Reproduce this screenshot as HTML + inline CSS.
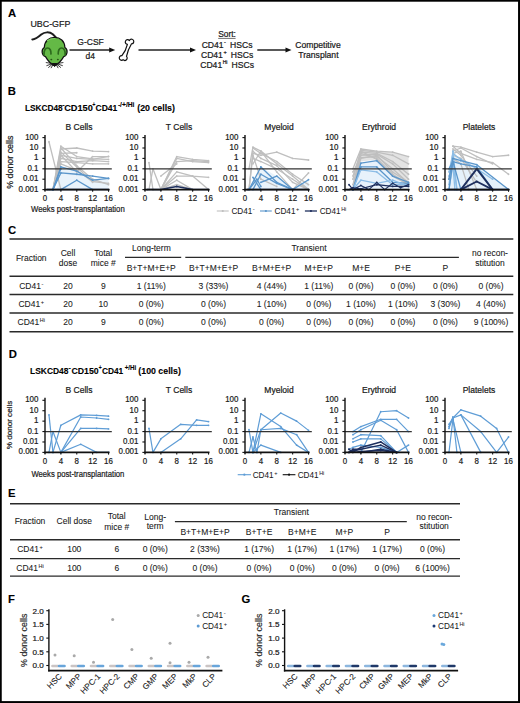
<!DOCTYPE html>
<html><head><meta charset="utf-8"><style>
html,body{margin:0;padding:0;background:#fff;width:520px;height:703px;overflow:hidden}
svg{display:block}
text{font-family:"Liberation Sans", sans-serif}
</style></head><body>
<svg width="520" height="703" viewBox="0 0 520 703" font-family='"Liberation Sans", sans-serif'><rect x="0" y="0" width="520" height="703" fill="#fff"/>
<text x="8.00" y="16.60" font-size="11.3" text-anchor="start" font-weight="bold" fill="#000" stroke="#000" stroke-width="0.1" >A</text>
<text x="30.40" y="27.40" font-size="8.9" text-anchor="start" font-weight="normal" fill="#1a1a1a" stroke="#1a1a1a" stroke-width="0.22" >UBC-GFP</text>
<g stroke-linejoin="round" stroke-linecap="round">
<path d="M32.3,39.4 C35.5,39.6 38.5,37 41.2,34.6 C44.5,31.8 49.5,31.6 52.8,34.2 L56.2,37.6" fill="none" stroke="#1e1e1e" stroke-width="2.0"/>
<path d="M45.5,56.6 A5.1,5.1 0 0 1 44.3,47.6 C44.5,41 49,37.4 54.6,37.4 C60.2,37.4 64.7,41 64.9,47.6 A5.1,5.1 0 0 1 63.7,56.6 C61.5,60.5 58.5,64 54.6,65.6 C50.7,64 47.7,60.5 45.5,56.6 Z" fill="#64b946" stroke="#111" stroke-width="1.2"/>
<path d="M44.0,55.0 C43.6,50.6 45.5,48.0 47.6,48.0 C49.9,48.0 51.2,50.6 51.0,54.0" fill="none" stroke="#2c6a1c" stroke-width="1.7"/>
<path d="M65.2,55.0 C65.6,50.6 63.7,48.0 61.6,48.0 C59.3,48.0 58.0,50.6 58.2,54.0" fill="none" stroke="#2c6a1c" stroke-width="1.7"/>
<path d="M47.5,40.5 C50,38.8 53,38.4 55,38.5" fill="none" stroke="#7fcf62" stroke-width="1.2"/>
<ellipse cx="51.3" cy="59.6" rx="1.0" ry="0.8" fill="#245516"/>
<ellipse cx="57.9" cy="59.6" rx="1.0" ry="0.8" fill="#245516"/>
<path d="M52.2,63.8 L54.6,66.5 L57.0,63.8 Z" fill="#111" stroke="#111" stroke-width="1.0"/>
<g stroke="#1a1a1a" stroke-width="0.85" fill="none">
<path d="M52,63.4 L46.2,62.6 M52,63.8 L46.8,65.6 M52.4,64.2 L48.6,67.4 M53,64.6 L51.2,67.8"/>
<path d="M57.2,63.4 L63,62.6 M57.2,63.8 L62.4,65.6 M56.8,64.2 L60.6,67.4 M56.2,64.6 L58,67.8"/>
</g>
</g>
<line x1="69.50" y1="50.00" x2="111.20" y2="50.00" stroke="#222" stroke-width="1.5" />
<path d="M109.20,47.40 L115.20,50.00 L109.20,52.60 Z" fill="#111"/>
<text x="90.60" y="45.10" font-size="8.5" text-anchor="middle" font-weight="normal" fill="#1a1a1a" stroke="#1a1a1a" stroke-width="0.22" >G-CSF</text>
<text x="90.30" y="58.60" font-size="8.5" text-anchor="middle" font-weight="normal" fill="#1a1a1a" stroke="#1a1a1a" stroke-width="0.22" >d4</text>
<path d="M127.4,44.3 A2.3,2.3 0 1 1 129.4,40.6 A2.3,2.3 0 1 1 131.5,43.8 Q127.9,49.8 126.5,56.4 A2.3,2.3 0 1 1 123.1,59.7 A2.3,2.3 0 1 1 121.9,55.7 Q125.9,50.6 127.4,44.3 Z" fill="#fff" stroke="#111" stroke-width="1.2" stroke-linejoin="round"/>
<line x1="138.50" y1="50.00" x2="192.00" y2="50.00" stroke="#222" stroke-width="1.5" />
<path d="M190.00,47.40 L196.00,50.00 L190.00,52.60 Z" fill="#111"/>
<text x="227" y="37.2" font-size="8.4" text-anchor="middle" fill="#1a1a1a" stroke="#1a1a1a" stroke-width="0.22">Sort:</text>
<line x1="218.20" y1="38.40" x2="235.60" y2="38.40" stroke="#333" stroke-width="0.7" />
<text x="227.10" y="47.75" font-size="8.6" text-anchor="middle" font-weight="normal" fill="#1a1a1a" stroke="#1a1a1a" stroke-width="0.22" >CD41<tspan font-size="5.6" dy="-3.6" dx="0.5">-</tspan><tspan dy="3.6" font-size="1">&#8203;</tspan>&#8201; HSCs</text>
<text x="227.10" y="57.75" font-size="8.6" text-anchor="middle" font-weight="normal" fill="#1a1a1a" stroke="#1a1a1a" stroke-width="0.22" >CD41<tspan font-size="5.6" dy="-3.6" dx="0.5">+</tspan><tspan dy="3.6" font-size="1">&#8203;</tspan>&#8201; HSCs</text>
<text x="227.10" y="67.75" font-size="8.6" text-anchor="middle" font-weight="normal" fill="#1a1a1a" stroke="#1a1a1a" stroke-width="0.22" >CD41<tspan font-size="5.0" dy="-3.6" dx="0.5">Hi</tspan><tspan dy="3.6" font-size="1">&#8203;</tspan>&#8201; HSCs</text>
<line x1="257.30" y1="50.00" x2="287.50" y2="50.00" stroke="#222" stroke-width="1.5" />
<path d="M285.50,47.40 L291.50,50.00 L285.50,52.60 Z" fill="#111"/>
<text x="318.00" y="47.70" font-size="8.6" text-anchor="middle" font-weight="normal" fill="#1a1a1a" stroke="#1a1a1a" stroke-width="0.22" >Competitive</text>
<text x="318.40" y="57.70" font-size="8.6" text-anchor="middle" font-weight="normal" fill="#1a1a1a" stroke="#1a1a1a" stroke-width="0.22" >Transplant</text>
<text x="7.80" y="94.50" font-size="11.3" text-anchor="start" font-weight="bold" fill="#000" stroke="#000" stroke-width="0.1" >B</text>
<text x="24.90" y="111.10" font-size="8.6" font-weight="bold" fill="#000" stroke="#000" stroke-width="0.1" textLength="37.80" lengthAdjust="spacingAndGlyphs">LSKCD48</text>
<text x="62.30" y="107.20" font-size="6.4" font-weight="bold" fill="#000" stroke="#000" stroke-width="0.1" textLength="2.40" lengthAdjust="spacingAndGlyphs">-</text>
<text x="64.20" y="111.10" font-size="8.6" font-weight="bold" fill="#000" stroke="#000" stroke-width="0.1" textLength="28.70" lengthAdjust="spacingAndGlyphs">CD150</text>
<text x="92.60" y="107.20" font-size="6.4" font-weight="bold" fill="#000" stroke="#000" stroke-width="0.1" textLength="2.80" lengthAdjust="spacingAndGlyphs">+</text>
<text x="95.50" y="111.10" font-size="8.6" font-weight="bold" fill="#000" stroke="#000" stroke-width="0.1" textLength="21.80" lengthAdjust="spacingAndGlyphs">CD41</text>
<text x="117.90" y="107.20" font-size="6.4" font-weight="bold" fill="#000" stroke="#000" stroke-width="0.1" textLength="16.60" lengthAdjust="spacingAndGlyphs">-/+/Hi</text>
<text x="137.20" y="111.10" font-size="8.6" font-weight="bold" fill="#000" stroke="#000" stroke-width="0.1" textLength="37.80" lengthAdjust="spacingAndGlyphs">(20 cells)</text>
<text transform="translate(12.6,162.2) rotate(-90)" font-size="8.9" text-anchor="middle" fill="#1a1a1a" stroke="#1a1a1a" stroke-width="0.22">% donor cells</text>
<text x="31.10" y="211.50" font-size="9.2" text-anchor="start" font-weight="normal" fill="#1a1a1a" stroke="#1a1a1a" stroke-width="0.22" textLength="93.6" lengthAdjust="spacingAndGlyphs">Weeks post-transplantation</text>
<text x="79.00" y="129.80" font-size="8.5" text-anchor="middle" font-weight="normal" fill="#1a1a1a" stroke="#1a1a1a" stroke-width="0.22" >B Cells</text>
<polygon points="56.91,189.60 60.88,166.97 76.76,171.11 92.64,180.21 108.52,178.38 108.52,189.60" fill="#e9f3fb" stroke="none"/>
<polyline points="48.97,141.74 60.88,189.60" fill="none" stroke="#bfbfbf" stroke-width="1.3" stroke-linejoin="round"/>
<circle cx="48.97" cy="141.74" r="0.9" fill="#bfbfbf"/>
<circle cx="60.88" cy="189.60" r="0.9" fill="#bfbfbf"/>
<polyline points="52.94,189.60 60.88,146.17 76.76,156.57 92.64,158.88 108.52,159.41" fill="none" stroke="#bfbfbf" stroke-width="1.3" stroke-linejoin="round"/>
<circle cx="52.94" cy="189.60" r="0.9" fill="#bfbfbf"/>
<circle cx="60.88" cy="146.17" r="0.9" fill="#bfbfbf"/>
<circle cx="76.76" cy="156.57" r="0.9" fill="#bfbfbf"/>
<circle cx="92.64" cy="158.88" r="0.9" fill="#bfbfbf"/>
<circle cx="108.52" cy="159.41" r="0.9" fill="#bfbfbf"/>
<polyline points="52.94,189.60 60.88,149.01 76.76,148.00 92.64,151.13 108.52,151.61" fill="none" stroke="#bfbfbf" stroke-width="1.3" stroke-linejoin="round"/>
<circle cx="52.94" cy="189.60" r="0.9" fill="#bfbfbf"/>
<circle cx="60.88" cy="149.01" r="0.9" fill="#bfbfbf"/>
<circle cx="76.76" cy="148.00" r="0.9" fill="#bfbfbf"/>
<circle cx="92.64" cy="151.13" r="0.9" fill="#bfbfbf"/>
<circle cx="108.52" cy="151.61" r="0.9" fill="#bfbfbf"/>
<polyline points="60.88,153.44 76.76,152.74" fill="none" stroke="#bfbfbf" stroke-width="1.3" stroke-linejoin="round"/>
<circle cx="60.88" cy="153.44" r="0.9" fill="#bfbfbf"/>
<circle cx="76.76" cy="152.74" r="0.9" fill="#bfbfbf"/>
<polyline points="52.94,189.60 60.88,155.27 76.76,158.40 92.64,159.41 108.52,156.28" fill="none" stroke="#bfbfbf" stroke-width="1.3" stroke-linejoin="round"/>
<circle cx="52.94" cy="189.60" r="0.9" fill="#bfbfbf"/>
<circle cx="60.88" cy="155.27" r="0.9" fill="#bfbfbf"/>
<circle cx="76.76" cy="158.40" r="0.9" fill="#bfbfbf"/>
<circle cx="92.64" cy="159.41" r="0.9" fill="#bfbfbf"/>
<circle cx="108.52" cy="156.28" r="0.9" fill="#bfbfbf"/>
<polyline points="52.94,189.60 60.88,158.40 76.76,161.53 92.64,160.71 108.52,161.53" fill="none" stroke="#bfbfbf" stroke-width="1.3" stroke-linejoin="round"/>
<circle cx="52.94" cy="189.60" r="0.9" fill="#bfbfbf"/>
<circle cx="60.88" cy="158.40" r="0.9" fill="#bfbfbf"/>
<circle cx="76.76" cy="161.53" r="0.9" fill="#bfbfbf"/>
<circle cx="92.64" cy="160.71" r="0.9" fill="#bfbfbf"/>
<circle cx="108.52" cy="161.53" r="0.9" fill="#bfbfbf"/>
<polyline points="52.94,189.60 60.88,161.53 76.76,162.54 92.64,163.84 108.52,163.84" fill="none" stroke="#bfbfbf" stroke-width="1.3" stroke-linejoin="round"/>
<circle cx="52.94" cy="189.60" r="0.9" fill="#bfbfbf"/>
<circle cx="60.88" cy="161.53" r="0.9" fill="#bfbfbf"/>
<circle cx="76.76" cy="162.54" r="0.9" fill="#bfbfbf"/>
<circle cx="92.64" cy="163.84" r="0.9" fill="#bfbfbf"/>
<circle cx="108.52" cy="163.84" r="0.9" fill="#bfbfbf"/>
<polyline points="52.94,189.60 60.88,163.84 76.76,170.41 92.64,181.51 108.52,183.34" fill="none" stroke="#bfbfbf" stroke-width="1.3" stroke-linejoin="round"/>
<circle cx="52.94" cy="189.60" r="0.9" fill="#bfbfbf"/>
<circle cx="60.88" cy="163.84" r="0.9" fill="#bfbfbf"/>
<circle cx="76.76" cy="170.41" r="0.9" fill="#bfbfbf"/>
<circle cx="92.64" cy="181.51" r="0.9" fill="#bfbfbf"/>
<circle cx="108.52" cy="183.34" r="0.9" fill="#bfbfbf"/>
<polyline points="60.88,148.00 76.76,165.67 92.64,179.20 108.52,184.64" fill="none" stroke="#bfbfbf" stroke-width="1.3" stroke-linejoin="round"/>
<circle cx="60.88" cy="148.00" r="0.9" fill="#bfbfbf"/>
<circle cx="76.76" cy="165.67" r="0.9" fill="#bfbfbf"/>
<circle cx="92.64" cy="179.20" r="0.9" fill="#bfbfbf"/>
<circle cx="108.52" cy="184.64" r="0.9" fill="#bfbfbf"/>
<polyline points="52.94,189.60 60.88,152.14 76.76,166.97 92.64,182.33" fill="none" stroke="#bfbfbf" stroke-width="1.3" stroke-linejoin="round"/>
<circle cx="52.94" cy="189.60" r="0.9" fill="#bfbfbf"/>
<circle cx="60.88" cy="152.14" r="0.9" fill="#bfbfbf"/>
<circle cx="76.76" cy="166.97" r="0.9" fill="#bfbfbf"/>
<circle cx="92.64" cy="182.33" r="0.9" fill="#bfbfbf"/>
<polyline points="60.88,155.27 76.76,171.93 92.64,156.57 108.52,156.57" fill="none" stroke="#bfbfbf" stroke-width="1.3" stroke-linejoin="round"/>
<circle cx="60.88" cy="155.27" r="0.9" fill="#bfbfbf"/>
<circle cx="76.76" cy="171.93" r="0.9" fill="#bfbfbf"/>
<circle cx="92.64" cy="156.57" r="0.9" fill="#bfbfbf"/>
<circle cx="108.52" cy="156.57" r="0.9" fill="#bfbfbf"/>
<polyline points="52.94,189.60 60.88,166.97 76.76,171.11 92.64,180.21 108.52,178.38" fill="none" stroke="#5b96cb" stroke-width="1.3" stroke-linejoin="round"/>
<circle cx="52.94" cy="189.60" r="0.9" fill="#5b96cb"/>
<circle cx="60.88" cy="166.97" r="0.9" fill="#5b96cb"/>
<circle cx="76.76" cy="171.11" r="0.9" fill="#5b96cb"/>
<circle cx="92.64" cy="180.21" r="0.9" fill="#5b96cb"/>
<circle cx="108.52" cy="178.38" r="0.9" fill="#5b96cb"/>
<polyline points="52.94,189.60 60.88,172.94 76.76,174.24 92.64,176.07 108.52,178.38" fill="none" stroke="#5b96cb" stroke-width="1.3" stroke-linejoin="round"/>
<circle cx="52.94" cy="189.60" r="0.9" fill="#5b96cb"/>
<circle cx="60.88" cy="172.94" r="0.9" fill="#5b96cb"/>
<circle cx="76.76" cy="174.24" r="0.9" fill="#5b96cb"/>
<circle cx="92.64" cy="176.07" r="0.9" fill="#5b96cb"/>
<circle cx="108.52" cy="178.38" r="0.9" fill="#5b96cb"/>
<polyline points="60.88,189.60 76.76,180.21 92.64,189.60" fill="none" stroke="#5b96cb" stroke-width="1.3" stroke-linejoin="round"/>
<circle cx="60.88" cy="189.60" r="0.9" fill="#5b96cb"/>
<circle cx="76.76" cy="180.21" r="0.9" fill="#5b96cb"/>
<circle cx="92.64" cy="189.60" r="0.9" fill="#5b96cb"/>
<polyline points="48.97,189.60 52.94,189.60 60.88,168.80" fill="none" stroke="#5b96cb" stroke-width="1.3" stroke-linejoin="round"/>
<circle cx="48.97" cy="189.60" r="0.9" fill="#5b96cb"/>
<circle cx="52.94" cy="189.60" r="0.9" fill="#5b96cb"/>
<circle cx="60.88" cy="168.80" r="0.9" fill="#5b96cb"/>
<polyline points="46.98,189.60 108.52,189.60" fill="none" stroke="#1e2f5e" stroke-width="1.5" stroke-linejoin="round"/>
<circle cx="46.98" cy="189.60" r="0.9" fill="#1e2f5e"/>
<circle cx="108.52" cy="189.60" r="0.9" fill="#1e2f5e"/>
<line x1="45.00" y1="168.80" x2="111.80" y2="168.80" stroke="#333" stroke-width="1.3" />
<line x1="45.00" y1="135.10" x2="45.00" y2="190.60" stroke="#111" stroke-width="1.4" />
<line x1="44.30" y1="189.60" x2="109.50" y2="189.60" stroke="#111" stroke-width="1.8" />
<line x1="42.40" y1="137.60" x2="45.00" y2="137.60" stroke="#111" stroke-width="1.1" />
<text x="38.40" y="139.60" font-size="8.9" text-anchor="end" font-weight="normal" fill="#1a1a1a" stroke="#1a1a1a" stroke-width="0.22" textLength="13.23" lengthAdjust="spacingAndGlyphs">100</text>
<line x1="42.40" y1="148.00" x2="45.00" y2="148.00" stroke="#111" stroke-width="1.1" />
<text x="38.40" y="150.00" font-size="8.9" text-anchor="end" font-weight="normal" fill="#1a1a1a" stroke="#1a1a1a" stroke-width="0.22" textLength="8.82" lengthAdjust="spacingAndGlyphs">10</text>
<line x1="42.40" y1="158.40" x2="45.00" y2="158.40" stroke="#111" stroke-width="1.1" />
<text x="38.40" y="160.40" font-size="8.9" text-anchor="end" font-weight="normal" fill="#1a1a1a" stroke="#1a1a1a" stroke-width="0.22" textLength="4.42" lengthAdjust="spacingAndGlyphs">1</text>
<line x1="42.40" y1="168.80" x2="45.00" y2="168.80" stroke="#111" stroke-width="1.1" />
<text x="38.40" y="170.80" font-size="8.9" text-anchor="end" font-weight="normal" fill="#1a1a1a" stroke="#1a1a1a" stroke-width="0.22" textLength="11.02" lengthAdjust="spacingAndGlyphs">0.1</text>
<line x1="42.40" y1="179.20" x2="45.00" y2="179.20" stroke="#111" stroke-width="1.1" />
<text x="38.40" y="181.20" font-size="8.9" text-anchor="end" font-weight="normal" fill="#1a1a1a" stroke="#1a1a1a" stroke-width="0.22" textLength="15.43" lengthAdjust="spacingAndGlyphs">0.01</text>
<line x1="42.40" y1="189.60" x2="45.00" y2="189.60" stroke="#111" stroke-width="1.1" />
<text x="38.40" y="191.60" font-size="8.9" text-anchor="end" font-weight="normal" fill="#1a1a1a" stroke="#1a1a1a" stroke-width="0.22" textLength="19.83" lengthAdjust="spacingAndGlyphs">0.001</text>
<line x1="45.00" y1="189.60" x2="45.00" y2="191.80" stroke="#111" stroke-width="1.1" />
<text x="45.00" y="201.20" font-size="9.0" text-anchor="middle" font-weight="normal" fill="#1a1a1a" stroke="#1a1a1a" stroke-width="0.22" textLength="4.40" lengthAdjust="spacingAndGlyphs">0</text>
<line x1="60.88" y1="189.60" x2="60.88" y2="191.80" stroke="#111" stroke-width="1.1" />
<text x="60.88" y="201.20" font-size="9.0" text-anchor="middle" font-weight="normal" fill="#1a1a1a" stroke="#1a1a1a" stroke-width="0.22" textLength="4.40" lengthAdjust="spacingAndGlyphs">4</text>
<line x1="76.76" y1="189.60" x2="76.76" y2="191.80" stroke="#111" stroke-width="1.1" />
<text x="76.76" y="201.20" font-size="9.0" text-anchor="middle" font-weight="normal" fill="#1a1a1a" stroke="#1a1a1a" stroke-width="0.22" textLength="4.40" lengthAdjust="spacingAndGlyphs">8</text>
<line x1="92.64" y1="189.60" x2="92.64" y2="191.80" stroke="#111" stroke-width="1.1" />
<text x="92.64" y="201.20" font-size="9.0" text-anchor="middle" font-weight="normal" fill="#1a1a1a" stroke="#1a1a1a" stroke-width="0.22" textLength="8.80" lengthAdjust="spacingAndGlyphs">12</text>
<line x1="108.52" y1="189.60" x2="108.52" y2="191.80" stroke="#111" stroke-width="1.1" />
<text x="108.52" y="201.20" font-size="9.0" text-anchor="middle" font-weight="normal" fill="#1a1a1a" stroke="#1a1a1a" stroke-width="0.22" textLength="8.80" lengthAdjust="spacingAndGlyphs">16</text>
<text x="179.00" y="129.80" font-size="8.5" text-anchor="middle" font-weight="normal" fill="#1a1a1a" stroke="#1a1a1a" stroke-width="0.22" >T Cells</text>
<polyline points="148.97,162.54 152.94,189.60" fill="none" stroke="#bfbfbf" stroke-width="1.3" stroke-linejoin="round"/>
<circle cx="148.97" cy="162.54" r="0.9" fill="#bfbfbf"/>
<circle cx="152.94" cy="189.60" r="0.9" fill="#bfbfbf"/>
<polyline points="148.97,189.60 152.94,168.80 160.88,189.60" fill="none" stroke="#bfbfbf" stroke-width="1.3" stroke-linejoin="round"/>
<circle cx="148.97" cy="189.60" r="0.9" fill="#bfbfbf"/>
<circle cx="152.94" cy="168.80" r="0.9" fill="#bfbfbf"/>
<circle cx="160.88" cy="189.60" r="0.9" fill="#bfbfbf"/>
<polyline points="160.88,189.60 176.76,156.57 192.64,159.41 208.52,160.71" fill="none" stroke="#bfbfbf" stroke-width="1.3" stroke-linejoin="round"/>
<circle cx="160.88" cy="189.60" r="0.9" fill="#bfbfbf"/>
<circle cx="176.76" cy="156.57" r="0.9" fill="#bfbfbf"/>
<circle cx="192.64" cy="159.41" r="0.9" fill="#bfbfbf"/>
<circle cx="208.52" cy="160.71" r="0.9" fill="#bfbfbf"/>
<polyline points="160.88,189.60 176.76,158.40 192.64,161.53 208.52,162.54" fill="none" stroke="#bfbfbf" stroke-width="1.3" stroke-linejoin="round"/>
<circle cx="160.88" cy="189.60" r="0.9" fill="#bfbfbf"/>
<circle cx="176.76" cy="158.40" r="0.9" fill="#bfbfbf"/>
<circle cx="192.64" cy="161.53" r="0.9" fill="#bfbfbf"/>
<circle cx="208.52" cy="162.54" r="0.9" fill="#bfbfbf"/>
<polyline points="160.88,189.60 176.76,161.53 192.64,160.71 208.52,161.53" fill="none" stroke="#bfbfbf" stroke-width="1.3" stroke-linejoin="round"/>
<circle cx="160.88" cy="189.60" r="0.9" fill="#bfbfbf"/>
<circle cx="176.76" cy="161.53" r="0.9" fill="#bfbfbf"/>
<circle cx="192.64" cy="160.71" r="0.9" fill="#bfbfbf"/>
<circle cx="208.52" cy="161.53" r="0.9" fill="#bfbfbf"/>
<polyline points="160.88,189.60 176.76,171.93 192.64,176.07 208.52,177.37" fill="none" stroke="#bfbfbf" stroke-width="1.3" stroke-linejoin="round"/>
<circle cx="160.88" cy="189.60" r="0.9" fill="#bfbfbf"/>
<circle cx="176.76" cy="171.93" r="0.9" fill="#bfbfbf"/>
<circle cx="192.64" cy="176.07" r="0.9" fill="#bfbfbf"/>
<circle cx="208.52" cy="177.37" r="0.9" fill="#bfbfbf"/>
<polyline points="160.88,189.60 176.76,176.07 192.64,176.07 208.52,189.60" fill="none" stroke="#bfbfbf" stroke-width="1.3" stroke-linejoin="round"/>
<circle cx="160.88" cy="189.60" r="0.9" fill="#bfbfbf"/>
<circle cx="176.76" cy="176.07" r="0.9" fill="#bfbfbf"/>
<circle cx="192.64" cy="176.07" r="0.9" fill="#bfbfbf"/>
<circle cx="208.52" cy="189.60" r="0.9" fill="#bfbfbf"/>
<polyline points="160.88,189.60 176.76,180.21 192.64,189.60" fill="none" stroke="#bfbfbf" stroke-width="1.3" stroke-linejoin="round"/>
<circle cx="160.88" cy="189.60" r="0.9" fill="#bfbfbf"/>
<circle cx="176.76" cy="180.21" r="0.9" fill="#bfbfbf"/>
<circle cx="192.64" cy="189.60" r="0.9" fill="#bfbfbf"/>
<polyline points="160.88,176.07 176.76,163.84" fill="none" stroke="#bfbfbf" stroke-width="1.3" stroke-linejoin="round"/>
<circle cx="160.88" cy="176.07" r="0.9" fill="#bfbfbf"/>
<circle cx="176.76" cy="163.84" r="0.9" fill="#bfbfbf"/>
<polyline points="152.94,189.60 160.88,189.60 176.76,184.64 192.64,189.60" fill="none" stroke="#bfbfbf" stroke-width="1.3" stroke-linejoin="round"/>
<circle cx="152.94" cy="189.60" r="0.9" fill="#bfbfbf"/>
<circle cx="160.88" cy="189.60" r="0.9" fill="#bfbfbf"/>
<circle cx="176.76" cy="184.64" r="0.9" fill="#bfbfbf"/>
<circle cx="192.64" cy="189.60" r="0.9" fill="#bfbfbf"/>
<polyline points="146.99,189.60 160.88,189.60 176.76,186.47 192.64,189.60 208.52,189.60" fill="none" stroke="#1e2f5e" stroke-width="1.5" stroke-linejoin="round"/>
<circle cx="146.99" cy="189.60" r="0.9" fill="#1e2f5e"/>
<circle cx="160.88" cy="189.60" r="0.9" fill="#1e2f5e"/>
<circle cx="176.76" cy="186.47" r="0.9" fill="#1e2f5e"/>
<circle cx="192.64" cy="189.60" r="0.9" fill="#1e2f5e"/>
<circle cx="208.52" cy="189.60" r="0.9" fill="#1e2f5e"/>
<line x1="145.00" y1="168.80" x2="211.80" y2="168.80" stroke="#333" stroke-width="1.3" />
<line x1="145.00" y1="135.10" x2="145.00" y2="190.60" stroke="#111" stroke-width="1.4" />
<line x1="144.30" y1="189.60" x2="209.50" y2="189.60" stroke="#111" stroke-width="1.8" />
<line x1="142.40" y1="137.60" x2="145.00" y2="137.60" stroke="#111" stroke-width="1.1" />
<text x="138.40" y="139.60" font-size="8.9" text-anchor="end" font-weight="normal" fill="#1a1a1a" stroke="#1a1a1a" stroke-width="0.22" textLength="13.23" lengthAdjust="spacingAndGlyphs">100</text>
<line x1="142.40" y1="148.00" x2="145.00" y2="148.00" stroke="#111" stroke-width="1.1" />
<text x="138.40" y="150.00" font-size="8.9" text-anchor="end" font-weight="normal" fill="#1a1a1a" stroke="#1a1a1a" stroke-width="0.22" textLength="8.82" lengthAdjust="spacingAndGlyphs">10</text>
<line x1="142.40" y1="158.40" x2="145.00" y2="158.40" stroke="#111" stroke-width="1.1" />
<text x="138.40" y="160.40" font-size="8.9" text-anchor="end" font-weight="normal" fill="#1a1a1a" stroke="#1a1a1a" stroke-width="0.22" textLength="4.42" lengthAdjust="spacingAndGlyphs">1</text>
<line x1="142.40" y1="168.80" x2="145.00" y2="168.80" stroke="#111" stroke-width="1.1" />
<text x="138.40" y="170.80" font-size="8.9" text-anchor="end" font-weight="normal" fill="#1a1a1a" stroke="#1a1a1a" stroke-width="0.22" textLength="11.02" lengthAdjust="spacingAndGlyphs">0.1</text>
<line x1="142.40" y1="179.20" x2="145.00" y2="179.20" stroke="#111" stroke-width="1.1" />
<text x="138.40" y="181.20" font-size="8.9" text-anchor="end" font-weight="normal" fill="#1a1a1a" stroke="#1a1a1a" stroke-width="0.22" textLength="15.43" lengthAdjust="spacingAndGlyphs">0.01</text>
<line x1="142.40" y1="189.60" x2="145.00" y2="189.60" stroke="#111" stroke-width="1.1" />
<text x="138.40" y="191.60" font-size="8.9" text-anchor="end" font-weight="normal" fill="#1a1a1a" stroke="#1a1a1a" stroke-width="0.22" textLength="19.83" lengthAdjust="spacingAndGlyphs">0.001</text>
<line x1="145.00" y1="189.60" x2="145.00" y2="191.80" stroke="#111" stroke-width="1.1" />
<text x="145.00" y="201.20" font-size="9.0" text-anchor="middle" font-weight="normal" fill="#1a1a1a" stroke="#1a1a1a" stroke-width="0.22" textLength="4.40" lengthAdjust="spacingAndGlyphs">0</text>
<line x1="160.88" y1="189.60" x2="160.88" y2="191.80" stroke="#111" stroke-width="1.1" />
<text x="160.88" y="201.20" font-size="9.0" text-anchor="middle" font-weight="normal" fill="#1a1a1a" stroke="#1a1a1a" stroke-width="0.22" textLength="4.40" lengthAdjust="spacingAndGlyphs">4</text>
<line x1="176.76" y1="189.60" x2="176.76" y2="191.80" stroke="#111" stroke-width="1.1" />
<text x="176.76" y="201.20" font-size="9.0" text-anchor="middle" font-weight="normal" fill="#1a1a1a" stroke="#1a1a1a" stroke-width="0.22" textLength="4.40" lengthAdjust="spacingAndGlyphs">8</text>
<line x1="192.64" y1="189.60" x2="192.64" y2="191.80" stroke="#111" stroke-width="1.1" />
<text x="192.64" y="201.20" font-size="9.0" text-anchor="middle" font-weight="normal" fill="#1a1a1a" stroke="#1a1a1a" stroke-width="0.22" textLength="8.80" lengthAdjust="spacingAndGlyphs">12</text>
<line x1="208.52" y1="189.60" x2="208.52" y2="191.80" stroke="#111" stroke-width="1.1" />
<text x="208.52" y="201.20" font-size="9.0" text-anchor="middle" font-weight="normal" fill="#1a1a1a" stroke="#1a1a1a" stroke-width="0.22" textLength="8.80" lengthAdjust="spacingAndGlyphs">16</text>
<text x="279.00" y="129.80" font-size="8.5" text-anchor="middle" font-weight="normal" fill="#1a1a1a" stroke="#1a1a1a" stroke-width="0.22" >Myeloid</text>
<polygon points="248.97,189.60 260.88,166.97 276.76,176.07 292.64,189.60 308.52,179.20 308.52,189.60" fill="#e9f3fb" stroke="none"/>
<polyline points="248.97,168.80 252.94,147.18 260.88,151.13 276.76,163.84 292.64,176.07 308.52,189.60" fill="none" stroke="#bfbfbf" stroke-width="1.3" stroke-linejoin="round"/>
<circle cx="248.97" cy="168.80" r="0.9" fill="#bfbfbf"/>
<circle cx="252.94" cy="147.18" r="0.9" fill="#bfbfbf"/>
<circle cx="260.88" cy="151.13" r="0.9" fill="#bfbfbf"/>
<circle cx="276.76" cy="163.84" r="0.9" fill="#bfbfbf"/>
<circle cx="292.64" cy="176.07" r="0.9" fill="#bfbfbf"/>
<circle cx="308.52" cy="189.60" r="0.9" fill="#bfbfbf"/>
<polyline points="252.94,148.00 260.88,153.44 276.76,161.53 292.64,174.24 308.52,184.64" fill="none" stroke="#bfbfbf" stroke-width="1.3" stroke-linejoin="round"/>
<circle cx="252.94" cy="148.00" r="0.9" fill="#bfbfbf"/>
<circle cx="260.88" cy="153.44" r="0.9" fill="#bfbfbf"/>
<circle cx="276.76" cy="161.53" r="0.9" fill="#bfbfbf"/>
<circle cx="292.64" cy="174.24" r="0.9" fill="#bfbfbf"/>
<circle cx="308.52" cy="184.64" r="0.9" fill="#bfbfbf"/>
<polyline points="252.94,153.44 260.88,155.27 276.76,152.14 292.64,158.40 308.52,160.01" fill="none" stroke="#bfbfbf" stroke-width="1.3" stroke-linejoin="round"/>
<circle cx="252.94" cy="153.44" r="0.9" fill="#bfbfbf"/>
<circle cx="260.88" cy="155.27" r="0.9" fill="#bfbfbf"/>
<circle cx="276.76" cy="152.14" r="0.9" fill="#bfbfbf"/>
<circle cx="292.64" cy="158.40" r="0.9" fill="#bfbfbf"/>
<circle cx="308.52" cy="160.01" r="0.9" fill="#bfbfbf"/>
<polyline points="248.97,189.60 252.94,151.13 260.88,158.40 276.76,165.67 292.64,182.33 308.52,189.60" fill="none" stroke="#bfbfbf" stroke-width="1.3" stroke-linejoin="round"/>
<circle cx="248.97" cy="189.60" r="0.9" fill="#bfbfbf"/>
<circle cx="252.94" cy="151.13" r="0.9" fill="#bfbfbf"/>
<circle cx="260.88" cy="158.40" r="0.9" fill="#bfbfbf"/>
<circle cx="276.76" cy="165.67" r="0.9" fill="#bfbfbf"/>
<circle cx="292.64" cy="182.33" r="0.9" fill="#bfbfbf"/>
<circle cx="308.52" cy="189.60" r="0.9" fill="#bfbfbf"/>
<polyline points="252.94,158.40 260.88,161.53 276.76,168.80 292.64,179.20 308.52,189.60" fill="none" stroke="#bfbfbf" stroke-width="1.3" stroke-linejoin="round"/>
<circle cx="252.94" cy="158.40" r="0.9" fill="#bfbfbf"/>
<circle cx="260.88" cy="161.53" r="0.9" fill="#bfbfbf"/>
<circle cx="276.76" cy="168.80" r="0.9" fill="#bfbfbf"/>
<circle cx="292.64" cy="179.20" r="0.9" fill="#bfbfbf"/>
<circle cx="308.52" cy="189.60" r="0.9" fill="#bfbfbf"/>
<polyline points="252.94,163.84 260.88,151.13 276.76,171.93 292.64,189.60 308.52,172.94" fill="none" stroke="#bfbfbf" stroke-width="1.3" stroke-linejoin="round"/>
<circle cx="252.94" cy="163.84" r="0.9" fill="#bfbfbf"/>
<circle cx="260.88" cy="151.13" r="0.9" fill="#bfbfbf"/>
<circle cx="276.76" cy="171.93" r="0.9" fill="#bfbfbf"/>
<circle cx="292.64" cy="189.60" r="0.9" fill="#bfbfbf"/>
<circle cx="308.52" cy="172.94" r="0.9" fill="#bfbfbf"/>
<polyline points="248.97,189.60 252.94,155.27 260.88,179.20 276.76,186.47" fill="none" stroke="#bfbfbf" stroke-width="1.3" stroke-linejoin="round"/>
<circle cx="248.97" cy="189.60" r="0.9" fill="#bfbfbf"/>
<circle cx="252.94" cy="155.27" r="0.9" fill="#bfbfbf"/>
<circle cx="260.88" cy="179.20" r="0.9" fill="#bfbfbf"/>
<circle cx="276.76" cy="186.47" r="0.9" fill="#bfbfbf"/>
<polyline points="248.97,189.60 260.88,166.97 276.76,182.33 292.64,189.60" fill="none" stroke="#5b96cb" stroke-width="1.3" stroke-linejoin="round"/>
<circle cx="248.97" cy="189.60" r="0.9" fill="#5b96cb"/>
<circle cx="260.88" cy="166.97" r="0.9" fill="#5b96cb"/>
<circle cx="276.76" cy="182.33" r="0.9" fill="#5b96cb"/>
<circle cx="292.64" cy="189.60" r="0.9" fill="#5b96cb"/>
<polyline points="252.94,177.37 260.88,189.60" fill="none" stroke="#5b96cb" stroke-width="1.3" stroke-linejoin="round"/>
<circle cx="252.94" cy="177.37" r="0.9" fill="#5b96cb"/>
<circle cx="260.88" cy="189.60" r="0.9" fill="#5b96cb"/>
<polyline points="252.94,189.60 260.88,174.24 276.76,183.34 292.64,189.60" fill="none" stroke="#5b96cb" stroke-width="1.3" stroke-linejoin="round"/>
<circle cx="252.94" cy="189.60" r="0.9" fill="#5b96cb"/>
<circle cx="260.88" cy="174.24" r="0.9" fill="#5b96cb"/>
<circle cx="276.76" cy="183.34" r="0.9" fill="#5b96cb"/>
<circle cx="292.64" cy="189.60" r="0.9" fill="#5b96cb"/>
<polyline points="260.88,182.33 276.76,176.07 292.64,189.60 308.52,179.68" fill="none" stroke="#5b96cb" stroke-width="1.3" stroke-linejoin="round"/>
<circle cx="260.88" cy="182.33" r="0.9" fill="#5b96cb"/>
<circle cx="276.76" cy="176.07" r="0.9" fill="#5b96cb"/>
<circle cx="292.64" cy="189.60" r="0.9" fill="#5b96cb"/>
<circle cx="308.52" cy="179.68" r="0.9" fill="#5b96cb"/>
<polyline points="248.97,189.60 256.91,179.20 260.88,186.47" fill="none" stroke="#5b96cb" stroke-width="1.3" stroke-linejoin="round"/>
<circle cx="248.97" cy="189.60" r="0.9" fill="#5b96cb"/>
<circle cx="256.91" cy="179.20" r="0.9" fill="#5b96cb"/>
<circle cx="260.88" cy="186.47" r="0.9" fill="#5b96cb"/>
<polyline points="246.99,189.60 308.52,189.60" fill="none" stroke="#1e2f5e" stroke-width="1.5" stroke-linejoin="round"/>
<circle cx="246.99" cy="189.60" r="0.9" fill="#1e2f5e"/>
<circle cx="308.52" cy="189.60" r="0.9" fill="#1e2f5e"/>
<line x1="245.00" y1="168.80" x2="311.80" y2="168.80" stroke="#333" stroke-width="1.3" />
<line x1="245.00" y1="135.10" x2="245.00" y2="190.60" stroke="#111" stroke-width="1.4" />
<line x1="244.30" y1="189.60" x2="309.50" y2="189.60" stroke="#111" stroke-width="1.8" />
<line x1="242.40" y1="137.60" x2="245.00" y2="137.60" stroke="#111" stroke-width="1.1" />
<text x="238.40" y="139.60" font-size="8.9" text-anchor="end" font-weight="normal" fill="#1a1a1a" stroke="#1a1a1a" stroke-width="0.22" textLength="13.23" lengthAdjust="spacingAndGlyphs">100</text>
<line x1="242.40" y1="148.00" x2="245.00" y2="148.00" stroke="#111" stroke-width="1.1" />
<text x="238.40" y="150.00" font-size="8.9" text-anchor="end" font-weight="normal" fill="#1a1a1a" stroke="#1a1a1a" stroke-width="0.22" textLength="8.82" lengthAdjust="spacingAndGlyphs">10</text>
<line x1="242.40" y1="158.40" x2="245.00" y2="158.40" stroke="#111" stroke-width="1.1" />
<text x="238.40" y="160.40" font-size="8.9" text-anchor="end" font-weight="normal" fill="#1a1a1a" stroke="#1a1a1a" stroke-width="0.22" textLength="4.42" lengthAdjust="spacingAndGlyphs">1</text>
<line x1="242.40" y1="168.80" x2="245.00" y2="168.80" stroke="#111" stroke-width="1.1" />
<text x="238.40" y="170.80" font-size="8.9" text-anchor="end" font-weight="normal" fill="#1a1a1a" stroke="#1a1a1a" stroke-width="0.22" textLength="11.02" lengthAdjust="spacingAndGlyphs">0.1</text>
<line x1="242.40" y1="179.20" x2="245.00" y2="179.20" stroke="#111" stroke-width="1.1" />
<text x="238.40" y="181.20" font-size="8.9" text-anchor="end" font-weight="normal" fill="#1a1a1a" stroke="#1a1a1a" stroke-width="0.22" textLength="15.43" lengthAdjust="spacingAndGlyphs">0.01</text>
<line x1="242.40" y1="189.60" x2="245.00" y2="189.60" stroke="#111" stroke-width="1.1" />
<text x="238.40" y="191.60" font-size="8.9" text-anchor="end" font-weight="normal" fill="#1a1a1a" stroke="#1a1a1a" stroke-width="0.22" textLength="19.83" lengthAdjust="spacingAndGlyphs">0.001</text>
<line x1="245.00" y1="189.60" x2="245.00" y2="191.80" stroke="#111" stroke-width="1.1" />
<text x="245.00" y="201.20" font-size="9.0" text-anchor="middle" font-weight="normal" fill="#1a1a1a" stroke="#1a1a1a" stroke-width="0.22" textLength="4.40" lengthAdjust="spacingAndGlyphs">0</text>
<line x1="260.88" y1="189.60" x2="260.88" y2="191.80" stroke="#111" stroke-width="1.1" />
<text x="260.88" y="201.20" font-size="9.0" text-anchor="middle" font-weight="normal" fill="#1a1a1a" stroke="#1a1a1a" stroke-width="0.22" textLength="4.40" lengthAdjust="spacingAndGlyphs">4</text>
<line x1="276.76" y1="189.60" x2="276.76" y2="191.80" stroke="#111" stroke-width="1.1" />
<text x="276.76" y="201.20" font-size="9.0" text-anchor="middle" font-weight="normal" fill="#1a1a1a" stroke="#1a1a1a" stroke-width="0.22" textLength="4.40" lengthAdjust="spacingAndGlyphs">8</text>
<line x1="292.64" y1="189.60" x2="292.64" y2="191.80" stroke="#111" stroke-width="1.1" />
<text x="292.64" y="201.20" font-size="9.0" text-anchor="middle" font-weight="normal" fill="#1a1a1a" stroke="#1a1a1a" stroke-width="0.22" textLength="8.80" lengthAdjust="spacingAndGlyphs">12</text>
<line x1="308.52" y1="189.60" x2="308.52" y2="191.80" stroke="#111" stroke-width="1.1" />
<text x="308.52" y="201.20" font-size="9.0" text-anchor="middle" font-weight="normal" fill="#1a1a1a" stroke="#1a1a1a" stroke-width="0.22" textLength="8.80" lengthAdjust="spacingAndGlyphs">16</text>
<text x="379.00" y="129.80" font-size="8.5" text-anchor="middle" font-weight="normal" fill="#1a1a1a" stroke="#1a1a1a" stroke-width="0.22" >Erythroid</text>
<polygon points="352.94,189.60 354.13,168.80 360.88,149.01 376.76,151.13 392.64,152.14 408.52,156.57 408.52,183.34 392.64,174.24 376.76,159.41 360.88,161.53 356.91,189.60" fill="#e3e3e3" stroke="none"/>
<polygon points="352.94,189.60 360.88,163.14 376.76,160.71 392.64,176.07 408.52,182.33 408.52,189.60" fill="#e8f2fb" stroke="none"/>
<polyline points="352.94,168.80 360.88,149.01 376.76,151.13 392.64,152.14 408.52,156.57" fill="none" stroke="#bfbfbf" stroke-width="1.3" stroke-linejoin="round"/>
<circle cx="352.94" cy="168.80" r="0.9" fill="#bfbfbf"/>
<circle cx="360.88" cy="149.01" r="0.9" fill="#bfbfbf"/>
<circle cx="376.76" cy="151.13" r="0.9" fill="#bfbfbf"/>
<circle cx="392.64" cy="152.14" r="0.9" fill="#bfbfbf"/>
<circle cx="408.52" cy="156.57" r="0.9" fill="#bfbfbf"/>
<polyline points="352.94,179.20 360.88,150.31 376.76,152.14 392.64,155.27 408.52,163.84" fill="none" stroke="#bfbfbf" stroke-width="1.3" stroke-linejoin="round"/>
<circle cx="352.94" cy="179.20" r="0.9" fill="#bfbfbf"/>
<circle cx="360.88" cy="150.31" r="0.9" fill="#bfbfbf"/>
<circle cx="376.76" cy="152.14" r="0.9" fill="#bfbfbf"/>
<circle cx="392.64" cy="155.27" r="0.9" fill="#bfbfbf"/>
<circle cx="408.52" cy="163.84" r="0.9" fill="#bfbfbf"/>
<polyline points="352.94,189.60 360.88,152.14 376.76,153.44 392.64,161.53 408.52,174.24" fill="none" stroke="#bfbfbf" stroke-width="1.3" stroke-linejoin="round"/>
<circle cx="352.94" cy="189.60" r="0.9" fill="#bfbfbf"/>
<circle cx="360.88" cy="152.14" r="0.9" fill="#bfbfbf"/>
<circle cx="376.76" cy="153.44" r="0.9" fill="#bfbfbf"/>
<circle cx="392.64" cy="161.53" r="0.9" fill="#bfbfbf"/>
<circle cx="408.52" cy="174.24" r="0.9" fill="#bfbfbf"/>
<polyline points="352.94,184.64 360.88,155.27 376.76,154.26 392.64,163.84 408.52,179.20" fill="none" stroke="#bfbfbf" stroke-width="1.3" stroke-linejoin="round"/>
<circle cx="352.94" cy="184.64" r="0.9" fill="#bfbfbf"/>
<circle cx="360.88" cy="155.27" r="0.9" fill="#bfbfbf"/>
<circle cx="376.76" cy="154.26" r="0.9" fill="#bfbfbf"/>
<circle cx="392.64" cy="163.84" r="0.9" fill="#bfbfbf"/>
<circle cx="408.52" cy="179.20" r="0.9" fill="#bfbfbf"/>
<polyline points="352.94,189.60 360.88,157.58 376.76,156.57 392.64,168.80 408.52,183.34" fill="none" stroke="#bfbfbf" stroke-width="1.3" stroke-linejoin="round"/>
<circle cx="352.94" cy="189.60" r="0.9" fill="#bfbfbf"/>
<circle cx="360.88" cy="157.58" r="0.9" fill="#bfbfbf"/>
<circle cx="376.76" cy="156.57" r="0.9" fill="#bfbfbf"/>
<circle cx="392.64" cy="168.80" r="0.9" fill="#bfbfbf"/>
<circle cx="408.52" cy="183.34" r="0.9" fill="#bfbfbf"/>
<polyline points="352.94,176.07 360.88,153.44 376.76,158.40 392.64,174.24 408.52,184.64" fill="none" stroke="#bfbfbf" stroke-width="1.3" stroke-linejoin="round"/>
<circle cx="352.94" cy="176.07" r="0.9" fill="#bfbfbf"/>
<circle cx="360.88" cy="153.44" r="0.9" fill="#bfbfbf"/>
<circle cx="376.76" cy="158.40" r="0.9" fill="#bfbfbf"/>
<circle cx="392.64" cy="174.24" r="0.9" fill="#bfbfbf"/>
<circle cx="408.52" cy="184.64" r="0.9" fill="#bfbfbf"/>
<polyline points="352.94,189.60 360.88,151.13 376.76,159.41 392.64,176.07 408.52,184.64" fill="none" stroke="#bfbfbf" stroke-width="1.3" stroke-linejoin="round"/>
<circle cx="352.94" cy="189.60" r="0.9" fill="#bfbfbf"/>
<circle cx="360.88" cy="151.13" r="0.9" fill="#bfbfbf"/>
<circle cx="376.76" cy="159.41" r="0.9" fill="#bfbfbf"/>
<circle cx="392.64" cy="176.07" r="0.9" fill="#bfbfbf"/>
<circle cx="408.52" cy="184.64" r="0.9" fill="#bfbfbf"/>
<polyline points="352.94,171.93 360.88,158.40 376.76,155.27 392.64,171.93 408.52,182.33" fill="none" stroke="#bfbfbf" stroke-width="1.3" stroke-linejoin="round"/>
<circle cx="352.94" cy="171.93" r="0.9" fill="#bfbfbf"/>
<circle cx="360.88" cy="158.40" r="0.9" fill="#bfbfbf"/>
<circle cx="376.76" cy="155.27" r="0.9" fill="#bfbfbf"/>
<circle cx="392.64" cy="171.93" r="0.9" fill="#bfbfbf"/>
<circle cx="408.52" cy="182.33" r="0.9" fill="#bfbfbf"/>
<polyline points="352.94,189.60 360.88,163.14 376.76,160.71 392.64,176.07 408.52,182.33" fill="none" stroke="#5b96cb" stroke-width="1.3" stroke-linejoin="round"/>
<circle cx="352.94" cy="189.60" r="0.9" fill="#5b96cb"/>
<circle cx="360.88" cy="163.14" r="0.9" fill="#5b96cb"/>
<circle cx="376.76" cy="160.71" r="0.9" fill="#5b96cb"/>
<circle cx="392.64" cy="176.07" r="0.9" fill="#5b96cb"/>
<circle cx="408.52" cy="182.33" r="0.9" fill="#5b96cb"/>
<polyline points="352.94,189.60 360.88,166.97 376.76,166.97 392.64,182.33 408.52,183.34" fill="none" stroke="#5b96cb" stroke-width="1.3" stroke-linejoin="round"/>
<circle cx="352.94" cy="189.60" r="0.9" fill="#5b96cb"/>
<circle cx="360.88" cy="166.97" r="0.9" fill="#5b96cb"/>
<circle cx="376.76" cy="166.97" r="0.9" fill="#5b96cb"/>
<circle cx="392.64" cy="182.33" r="0.9" fill="#5b96cb"/>
<circle cx="408.52" cy="183.34" r="0.9" fill="#5b96cb"/>
<polyline points="352.94,189.60 360.88,169.81 376.76,171.93 392.64,184.64 408.52,184.64" fill="none" stroke="#8dbde6" stroke-width="1.3" stroke-linejoin="round"/>
<circle cx="352.94" cy="189.60" r="0.9" fill="#8dbde6"/>
<circle cx="360.88" cy="169.81" r="0.9" fill="#8dbde6"/>
<circle cx="376.76" cy="171.93" r="0.9" fill="#8dbde6"/>
<circle cx="392.64" cy="184.64" r="0.9" fill="#8dbde6"/>
<circle cx="408.52" cy="184.64" r="0.9" fill="#8dbde6"/>
<polyline points="352.94,189.60 360.88,180.21 376.76,183.34 392.64,180.21 408.52,186.47" fill="none" stroke="#8dbde6" stroke-width="1.3" stroke-linejoin="round"/>
<circle cx="352.94" cy="189.60" r="0.9" fill="#8dbde6"/>
<circle cx="360.88" cy="180.21" r="0.9" fill="#8dbde6"/>
<circle cx="376.76" cy="183.34" r="0.9" fill="#8dbde6"/>
<circle cx="392.64" cy="180.21" r="0.9" fill="#8dbde6"/>
<circle cx="408.52" cy="186.47" r="0.9" fill="#8dbde6"/>
<polyline points="348.97,184.64 352.94,189.60 360.88,185.46 368.82,189.60 376.76,182.33 384.70,189.60 392.64,183.34 400.58,187.77 408.52,184.64" fill="none" stroke="#1e2f5e" stroke-width="1.2" stroke-linejoin="round"/>
<circle cx="348.97" cy="184.64" r="0.9" fill="#1e2f5e"/>
<circle cx="352.94" cy="189.60" r="0.9" fill="#1e2f5e"/>
<circle cx="360.88" cy="185.46" r="0.9" fill="#1e2f5e"/>
<circle cx="368.82" cy="189.60" r="0.9" fill="#1e2f5e"/>
<circle cx="376.76" cy="182.33" r="0.9" fill="#1e2f5e"/>
<circle cx="384.70" cy="189.60" r="0.9" fill="#1e2f5e"/>
<circle cx="392.64" cy="183.34" r="0.9" fill="#1e2f5e"/>
<circle cx="400.58" cy="187.77" r="0.9" fill="#1e2f5e"/>
<circle cx="408.52" cy="184.64" r="0.9" fill="#1e2f5e"/>
<polyline points="348.97,189.60 352.94,187.77 360.88,188.78 376.76,184.64 392.64,186.47 408.52,186.47" fill="none" stroke="#1e2f5e" stroke-width="1.2" stroke-linejoin="round"/>
<circle cx="348.97" cy="189.60" r="0.9" fill="#1e2f5e"/>
<circle cx="352.94" cy="187.77" r="0.9" fill="#1e2f5e"/>
<circle cx="360.88" cy="188.78" r="0.9" fill="#1e2f5e"/>
<circle cx="376.76" cy="184.64" r="0.9" fill="#1e2f5e"/>
<circle cx="392.64" cy="186.47" r="0.9" fill="#1e2f5e"/>
<circle cx="408.52" cy="186.47" r="0.9" fill="#1e2f5e"/>
<polyline points="346.99,189.60 408.52,189.60" fill="none" stroke="#1e2f5e" stroke-width="1.2" stroke-linejoin="round"/>
<circle cx="346.99" cy="189.60" r="0.9" fill="#1e2f5e"/>
<circle cx="408.52" cy="189.60" r="0.9" fill="#1e2f5e"/>
<line x1="345.00" y1="168.80" x2="411.80" y2="168.80" stroke="#333" stroke-width="1.3" />
<line x1="345.00" y1="135.10" x2="345.00" y2="190.60" stroke="#111" stroke-width="1.4" />
<line x1="344.30" y1="189.60" x2="409.50" y2="189.60" stroke="#111" stroke-width="1.8" />
<line x1="342.40" y1="137.60" x2="345.00" y2="137.60" stroke="#111" stroke-width="1.1" />
<text x="338.40" y="139.60" font-size="8.9" text-anchor="end" font-weight="normal" fill="#1a1a1a" stroke="#1a1a1a" stroke-width="0.22" textLength="13.23" lengthAdjust="spacingAndGlyphs">100</text>
<line x1="342.40" y1="148.00" x2="345.00" y2="148.00" stroke="#111" stroke-width="1.1" />
<text x="338.40" y="150.00" font-size="8.9" text-anchor="end" font-weight="normal" fill="#1a1a1a" stroke="#1a1a1a" stroke-width="0.22" textLength="8.82" lengthAdjust="spacingAndGlyphs">10</text>
<line x1="342.40" y1="158.40" x2="345.00" y2="158.40" stroke="#111" stroke-width="1.1" />
<text x="338.40" y="160.40" font-size="8.9" text-anchor="end" font-weight="normal" fill="#1a1a1a" stroke="#1a1a1a" stroke-width="0.22" textLength="4.42" lengthAdjust="spacingAndGlyphs">1</text>
<line x1="342.40" y1="168.80" x2="345.00" y2="168.80" stroke="#111" stroke-width="1.1" />
<text x="338.40" y="170.80" font-size="8.9" text-anchor="end" font-weight="normal" fill="#1a1a1a" stroke="#1a1a1a" stroke-width="0.22" textLength="11.02" lengthAdjust="spacingAndGlyphs">0.1</text>
<line x1="342.40" y1="179.20" x2="345.00" y2="179.20" stroke="#111" stroke-width="1.1" />
<text x="338.40" y="181.20" font-size="8.9" text-anchor="end" font-weight="normal" fill="#1a1a1a" stroke="#1a1a1a" stroke-width="0.22" textLength="15.43" lengthAdjust="spacingAndGlyphs">0.01</text>
<line x1="342.40" y1="189.60" x2="345.00" y2="189.60" stroke="#111" stroke-width="1.1" />
<text x="338.40" y="191.60" font-size="8.9" text-anchor="end" font-weight="normal" fill="#1a1a1a" stroke="#1a1a1a" stroke-width="0.22" textLength="19.83" lengthAdjust="spacingAndGlyphs">0.001</text>
<line x1="345.00" y1="189.60" x2="345.00" y2="191.80" stroke="#111" stroke-width="1.1" />
<text x="345.00" y="201.20" font-size="9.0" text-anchor="middle" font-weight="normal" fill="#1a1a1a" stroke="#1a1a1a" stroke-width="0.22" textLength="4.40" lengthAdjust="spacingAndGlyphs">0</text>
<line x1="360.88" y1="189.60" x2="360.88" y2="191.80" stroke="#111" stroke-width="1.1" />
<text x="360.88" y="201.20" font-size="9.0" text-anchor="middle" font-weight="normal" fill="#1a1a1a" stroke="#1a1a1a" stroke-width="0.22" textLength="4.40" lengthAdjust="spacingAndGlyphs">4</text>
<line x1="376.76" y1="189.60" x2="376.76" y2="191.80" stroke="#111" stroke-width="1.1" />
<text x="376.76" y="201.20" font-size="9.0" text-anchor="middle" font-weight="normal" fill="#1a1a1a" stroke="#1a1a1a" stroke-width="0.22" textLength="4.40" lengthAdjust="spacingAndGlyphs">8</text>
<line x1="392.64" y1="189.60" x2="392.64" y2="191.80" stroke="#111" stroke-width="1.1" />
<text x="392.64" y="201.20" font-size="9.0" text-anchor="middle" font-weight="normal" fill="#1a1a1a" stroke="#1a1a1a" stroke-width="0.22" textLength="8.80" lengthAdjust="spacingAndGlyphs">12</text>
<line x1="408.52" y1="189.60" x2="408.52" y2="191.80" stroke="#111" stroke-width="1.1" />
<text x="408.52" y="201.20" font-size="9.0" text-anchor="middle" font-weight="normal" fill="#1a1a1a" stroke="#1a1a1a" stroke-width="0.22" textLength="8.80" lengthAdjust="spacingAndGlyphs">16</text>
<text x="479.00" y="129.80" font-size="8.5" text-anchor="middle" font-weight="normal" fill="#1a1a1a" stroke="#1a1a1a" stroke-width="0.22" >Platelets</text>
<polygon points="448.97,189.60 448.97,171.93 452.94,151.13 460.88,160.71 476.76,164.66 508.52,189.60" fill="#e6f1fa" stroke="none"/>
<polyline points="452.94,146.17 460.88,147.18 476.76,152.14 492.64,156.57 508.52,155.27" fill="none" stroke="#bfbfbf" stroke-width="1.3" stroke-linejoin="round"/>
<circle cx="452.94" cy="146.17" r="0.9" fill="#bfbfbf"/>
<circle cx="460.88" cy="147.18" r="0.9" fill="#bfbfbf"/>
<circle cx="476.76" cy="152.14" r="0.9" fill="#bfbfbf"/>
<circle cx="492.64" cy="156.57" r="0.9" fill="#bfbfbf"/>
<circle cx="508.52" cy="155.27" r="0.9" fill="#bfbfbf"/>
<polyline points="452.94,146.17 460.88,153.44 476.76,159.41 492.64,162.54 508.52,174.24" fill="none" stroke="#bfbfbf" stroke-width="1.3" stroke-linejoin="round"/>
<circle cx="452.94" cy="146.17" r="0.9" fill="#bfbfbf"/>
<circle cx="460.88" cy="153.44" r="0.9" fill="#bfbfbf"/>
<circle cx="476.76" cy="159.41" r="0.9" fill="#bfbfbf"/>
<circle cx="492.64" cy="162.54" r="0.9" fill="#bfbfbf"/>
<circle cx="508.52" cy="174.24" r="0.9" fill="#bfbfbf"/>
<polyline points="452.94,151.13 460.88,148.00 476.76,156.57 492.64,163.84" fill="none" stroke="#bfbfbf" stroke-width="1.3" stroke-linejoin="round"/>
<circle cx="452.94" cy="151.13" r="0.9" fill="#bfbfbf"/>
<circle cx="460.88" cy="148.00" r="0.9" fill="#bfbfbf"/>
<circle cx="476.76" cy="156.57" r="0.9" fill="#bfbfbf"/>
<circle cx="492.64" cy="163.84" r="0.9" fill="#bfbfbf"/>
<polyline points="452.94,153.44 460.88,151.13 476.76,189.60" fill="none" stroke="#bfbfbf" stroke-width="1.3" stroke-linejoin="round"/>
<circle cx="452.94" cy="153.44" r="0.9" fill="#bfbfbf"/>
<circle cx="460.88" cy="151.13" r="0.9" fill="#bfbfbf"/>
<circle cx="476.76" cy="189.60" r="0.9" fill="#bfbfbf"/>
<polyline points="452.94,149.01 460.88,155.27 476.76,176.07" fill="none" stroke="#bfbfbf" stroke-width="1.3" stroke-linejoin="round"/>
<circle cx="452.94" cy="149.01" r="0.9" fill="#bfbfbf"/>
<circle cx="460.88" cy="155.27" r="0.9" fill="#bfbfbf"/>
<circle cx="476.76" cy="176.07" r="0.9" fill="#bfbfbf"/>
<polyline points="452.94,155.27 460.88,158.40 476.76,182.33" fill="none" stroke="#bfbfbf" stroke-width="1.3" stroke-linejoin="round"/>
<circle cx="452.94" cy="155.27" r="0.9" fill="#bfbfbf"/>
<circle cx="460.88" cy="158.40" r="0.9" fill="#bfbfbf"/>
<circle cx="476.76" cy="182.33" r="0.9" fill="#bfbfbf"/>
<polyline points="448.97,179.20 452.94,158.40 460.88,163.84 468.82,189.60" fill="none" stroke="#bfbfbf" stroke-width="1.3" stroke-linejoin="round"/>
<circle cx="448.97" cy="179.20" r="0.9" fill="#bfbfbf"/>
<circle cx="452.94" cy="158.40" r="0.9" fill="#bfbfbf"/>
<circle cx="460.88" cy="163.84" r="0.9" fill="#bfbfbf"/>
<circle cx="468.82" cy="189.60" r="0.9" fill="#bfbfbf"/>
<polyline points="448.97,189.60 452.94,163.84 456.91,189.60" fill="none" stroke="#8dbde6" stroke-width="1.3" stroke-linejoin="round"/>
<circle cx="448.97" cy="189.60" r="0.9" fill="#8dbde6"/>
<circle cx="452.94" cy="163.84" r="0.9" fill="#8dbde6"/>
<circle cx="456.91" cy="189.60" r="0.9" fill="#8dbde6"/>
<polyline points="448.97,171.93 452.94,153.44 460.88,159.41 476.76,168.80 492.64,179.20" fill="none" stroke="#8dbde6" stroke-width="1.3" stroke-linejoin="round"/>
<circle cx="448.97" cy="171.93" r="0.9" fill="#8dbde6"/>
<circle cx="452.94" cy="153.44" r="0.9" fill="#8dbde6"/>
<circle cx="460.88" cy="159.41" r="0.9" fill="#8dbde6"/>
<circle cx="476.76" cy="168.80" r="0.9" fill="#8dbde6"/>
<circle cx="492.64" cy="179.20" r="0.9" fill="#8dbde6"/>
<polyline points="448.97,184.64 452.94,151.13 456.91,189.60" fill="none" stroke="#8dbde6" stroke-width="1.3" stroke-linejoin="round"/>
<circle cx="448.97" cy="184.64" r="0.9" fill="#8dbde6"/>
<circle cx="452.94" cy="151.13" r="0.9" fill="#8dbde6"/>
<circle cx="456.91" cy="189.60" r="0.9" fill="#8dbde6"/>
<polyline points="448.97,176.07 452.94,165.67 454.93,189.60" fill="none" stroke="#8dbde6" stroke-width="1.3" stroke-linejoin="round"/>
<circle cx="448.97" cy="176.07" r="0.9" fill="#8dbde6"/>
<circle cx="452.94" cy="165.67" r="0.9" fill="#8dbde6"/>
<circle cx="454.93" cy="189.60" r="0.9" fill="#8dbde6"/>
<polyline points="448.97,179.20 452.94,158.40 460.88,160.71 476.76,164.66 508.52,189.60" fill="none" stroke="#5b96cb" stroke-width="1.3" stroke-linejoin="round"/>
<circle cx="448.97" cy="179.20" r="0.9" fill="#5b96cb"/>
<circle cx="452.94" cy="158.40" r="0.9" fill="#5b96cb"/>
<circle cx="460.88" cy="160.71" r="0.9" fill="#5b96cb"/>
<circle cx="476.76" cy="164.66" r="0.9" fill="#5b96cb"/>
<circle cx="508.52" cy="189.60" r="0.9" fill="#5b96cb"/>
<polyline points="448.97,189.60 452.94,161.53 460.88,189.60" fill="none" stroke="#5b96cb" stroke-width="1.3" stroke-linejoin="round"/>
<circle cx="448.97" cy="189.60" r="0.9" fill="#5b96cb"/>
<circle cx="452.94" cy="161.53" r="0.9" fill="#5b96cb"/>
<circle cx="460.88" cy="189.60" r="0.9" fill="#5b96cb"/>
<polyline points="448.97,168.80 452.94,161.53 460.88,163.84 476.76,166.97 492.64,189.60" fill="none" stroke="#5b96cb" stroke-width="1.3" stroke-linejoin="round"/>
<circle cx="448.97" cy="168.80" r="0.9" fill="#5b96cb"/>
<circle cx="452.94" cy="161.53" r="0.9" fill="#5b96cb"/>
<circle cx="460.88" cy="163.84" r="0.9" fill="#5b96cb"/>
<circle cx="476.76" cy="166.97" r="0.9" fill="#5b96cb"/>
<circle cx="492.64" cy="189.60" r="0.9" fill="#5b96cb"/>
<polyline points="460.88,189.60 476.76,168.80 492.64,189.60" fill="none" stroke="#1e2f5e" stroke-width="1.9" stroke-linejoin="round"/>
<circle cx="460.88" cy="189.60" r="0.9" fill="#1e2f5e"/>
<circle cx="476.76" cy="168.80" r="0.9" fill="#1e2f5e"/>
<circle cx="492.64" cy="189.60" r="0.9" fill="#1e2f5e"/>
<polyline points="460.88,189.60 476.76,181.51 492.64,189.60" fill="none" stroke="#1e2f5e" stroke-width="1.9" stroke-linejoin="round"/>
<circle cx="460.88" cy="189.60" r="0.9" fill="#1e2f5e"/>
<circle cx="476.76" cy="181.51" r="0.9" fill="#1e2f5e"/>
<circle cx="492.64" cy="189.60" r="0.9" fill="#1e2f5e"/>
<polyline points="446.99,189.60 508.52,189.60" fill="none" stroke="#1e2f5e" stroke-width="1.9" stroke-linejoin="round"/>
<circle cx="446.99" cy="189.60" r="0.9" fill="#1e2f5e"/>
<circle cx="508.52" cy="189.60" r="0.9" fill="#1e2f5e"/>
<line x1="445.00" y1="168.80" x2="511.80" y2="168.80" stroke="#333" stroke-width="1.3" />
<line x1="445.00" y1="135.10" x2="445.00" y2="190.60" stroke="#111" stroke-width="1.4" />
<line x1="444.30" y1="189.60" x2="509.50" y2="189.60" stroke="#111" stroke-width="1.8" />
<line x1="442.40" y1="137.60" x2="445.00" y2="137.60" stroke="#111" stroke-width="1.1" />
<text x="438.40" y="139.60" font-size="8.9" text-anchor="end" font-weight="normal" fill="#1a1a1a" stroke="#1a1a1a" stroke-width="0.22" textLength="13.23" lengthAdjust="spacingAndGlyphs">100</text>
<line x1="442.40" y1="148.00" x2="445.00" y2="148.00" stroke="#111" stroke-width="1.1" />
<text x="438.40" y="150.00" font-size="8.9" text-anchor="end" font-weight="normal" fill="#1a1a1a" stroke="#1a1a1a" stroke-width="0.22" textLength="8.82" lengthAdjust="spacingAndGlyphs">10</text>
<line x1="442.40" y1="158.40" x2="445.00" y2="158.40" stroke="#111" stroke-width="1.1" />
<text x="438.40" y="160.40" font-size="8.9" text-anchor="end" font-weight="normal" fill="#1a1a1a" stroke="#1a1a1a" stroke-width="0.22" textLength="4.42" lengthAdjust="spacingAndGlyphs">1</text>
<line x1="442.40" y1="168.80" x2="445.00" y2="168.80" stroke="#111" stroke-width="1.1" />
<text x="438.40" y="170.80" font-size="8.9" text-anchor="end" font-weight="normal" fill="#1a1a1a" stroke="#1a1a1a" stroke-width="0.22" textLength="11.02" lengthAdjust="spacingAndGlyphs">0.1</text>
<line x1="442.40" y1="179.20" x2="445.00" y2="179.20" stroke="#111" stroke-width="1.1" />
<text x="438.40" y="181.20" font-size="8.9" text-anchor="end" font-weight="normal" fill="#1a1a1a" stroke="#1a1a1a" stroke-width="0.22" textLength="15.43" lengthAdjust="spacingAndGlyphs">0.01</text>
<line x1="442.40" y1="189.60" x2="445.00" y2="189.60" stroke="#111" stroke-width="1.1" />
<text x="438.40" y="191.60" font-size="8.9" text-anchor="end" font-weight="normal" fill="#1a1a1a" stroke="#1a1a1a" stroke-width="0.22" textLength="19.83" lengthAdjust="spacingAndGlyphs">0.001</text>
<line x1="445.00" y1="189.60" x2="445.00" y2="191.80" stroke="#111" stroke-width="1.1" />
<text x="445.00" y="201.20" font-size="9.0" text-anchor="middle" font-weight="normal" fill="#1a1a1a" stroke="#1a1a1a" stroke-width="0.22" textLength="4.40" lengthAdjust="spacingAndGlyphs">0</text>
<line x1="460.88" y1="189.60" x2="460.88" y2="191.80" stroke="#111" stroke-width="1.1" />
<text x="460.88" y="201.20" font-size="9.0" text-anchor="middle" font-weight="normal" fill="#1a1a1a" stroke="#1a1a1a" stroke-width="0.22" textLength="4.40" lengthAdjust="spacingAndGlyphs">4</text>
<line x1="476.76" y1="189.60" x2="476.76" y2="191.80" stroke="#111" stroke-width="1.1" />
<text x="476.76" y="201.20" font-size="9.0" text-anchor="middle" font-weight="normal" fill="#1a1a1a" stroke="#1a1a1a" stroke-width="0.22" textLength="4.40" lengthAdjust="spacingAndGlyphs">8</text>
<line x1="492.64" y1="189.60" x2="492.64" y2="191.80" stroke="#111" stroke-width="1.1" />
<text x="492.64" y="201.20" font-size="9.0" text-anchor="middle" font-weight="normal" fill="#1a1a1a" stroke="#1a1a1a" stroke-width="0.22" textLength="8.80" lengthAdjust="spacingAndGlyphs">12</text>
<line x1="508.52" y1="189.60" x2="508.52" y2="191.80" stroke="#111" stroke-width="1.1" />
<text x="508.52" y="201.20" font-size="9.0" text-anchor="middle" font-weight="normal" fill="#1a1a1a" stroke="#1a1a1a" stroke-width="0.22" textLength="8.80" lengthAdjust="spacingAndGlyphs">16</text>
<line x1="216.80" y1="211.00" x2="228.70" y2="211.00" stroke="#bfbfbf" stroke-width="1.1" />
<circle cx="222.75" cy="211.00" r="1.1" fill="#bfbfbf"/>
<text x="231.40" y="213.90" font-size="8.2" text-anchor="start" font-weight="normal" fill="#1a1a1a" stroke="#1a1a1a" stroke-width="0.05" >CD41<tspan font-size="5.8" dy="-3.0" dx="0.5">-</tspan><tspan dy="3.0" font-size="1">&#8203;</tspan></text>
<line x1="260.00" y1="211.00" x2="271.80" y2="211.00" stroke="#5b96cb" stroke-width="1.1" />
<circle cx="265.90" cy="211.00" r="1.1" fill="#5b96cb"/>
<text x="274.50" y="213.90" font-size="8.2" text-anchor="start" font-weight="normal" fill="#1a1a1a" stroke="#1a1a1a" stroke-width="0.05" >CD41<tspan font-size="5.6" dy="-3.0" dx="0.5">+</tspan><tspan dy="3.0" font-size="1">&#8203;</tspan></text>
<line x1="304.90" y1="211.00" x2="317.00" y2="211.00" stroke="#1e2f5e" stroke-width="1.3" />
<circle cx="310.95" cy="211.00" r="1.1" fill="#1e2f5e"/>
<text x="319.70" y="213.90" font-size="8.2" text-anchor="start" font-weight="normal" fill="#1a1a1a" stroke="#1a1a1a" stroke-width="0.05" >CD41<tspan font-size="5.4" dy="-3.0" dx="0.5">Hi</tspan><tspan dy="3.0" font-size="1">&#8203;</tspan></text>
<text x="8.00" y="233.75" font-size="11.3" text-anchor="start" font-weight="bold" fill="#000" stroke="#000" stroke-width="0.1" >C</text>
<line x1="9.50" y1="239.00" x2="513.30" y2="239.00" stroke="#2a2a2a" stroke-width="1.4" />
<line x1="125.00" y1="257.40" x2="181.20" y2="257.40" stroke="#2a2a2a" stroke-width="1.2" />
<line x1="185.30" y1="257.40" x2="458.90" y2="257.40" stroke="#2a2a2a" stroke-width="1.2" />
<line x1="9.50" y1="276.30" x2="513.30" y2="276.30" stroke="#2a2a2a" stroke-width="1.4" />
<line x1="9.50" y1="294.50" x2="513.30" y2="294.50" stroke="#2a2a2a" stroke-width="1.4" />
<line x1="9.50" y1="313.00" x2="513.30" y2="313.00" stroke="#2a2a2a" stroke-width="1.4" />
<line x1="9.50" y1="331.75" x2="513.30" y2="331.75" stroke="#2a2a2a" stroke-width="1.4" />
<text x="31.25" y="260.50" font-size="8.5" text-anchor="middle" font-weight="normal" fill="#1a1a1a" stroke="#1a1a1a" stroke-width="0.08" >Fraction</text>
<text x="68.00" y="255.50" font-size="8.5" text-anchor="middle" font-weight="normal" fill="#1a1a1a" stroke="#1a1a1a" stroke-width="0.08" >Cell</text>
<text x="68.00" y="266.00" font-size="8.5" text-anchor="middle" font-weight="normal" fill="#1a1a1a" stroke="#1a1a1a" stroke-width="0.08" >dose</text>
<text x="103.25" y="255.50" font-size="8.5" text-anchor="middle" font-weight="normal" fill="#1a1a1a" stroke="#1a1a1a" stroke-width="0.08" >Total</text>
<text x="103.25" y="266.00" font-size="8.5" text-anchor="middle" font-weight="normal" fill="#1a1a1a" stroke="#1a1a1a" stroke-width="0.08" >mice #</text>
<text x="151.40" y="250.70" font-size="8.5" text-anchor="middle" font-weight="normal" fill="#1a1a1a" stroke="#1a1a1a" stroke-width="0.08" >Long-term</text>
<text x="309.00" y="251.00" font-size="8.5" text-anchor="middle" font-weight="normal" fill="#1a1a1a" stroke="#1a1a1a" stroke-width="0.08" >Transient</text>
<text x="151.20" y="271.20" font-size="8.5" text-anchor="middle" font-weight="normal" fill="#1a1a1a" stroke="#1a1a1a" stroke-width="0.08" >B+T+M+E+P</text>
<text x="213.50" y="271.20" font-size="8.5" text-anchor="middle" font-weight="normal" fill="#1a1a1a" stroke="#1a1a1a" stroke-width="0.08" >B+T+M+E+P</text>
<text x="271.60" y="271.20" font-size="8.5" text-anchor="middle" font-weight="normal" fill="#1a1a1a" stroke="#1a1a1a" stroke-width="0.08" >B+M+E+P</text>
<text x="318.80" y="271.20" font-size="8.5" text-anchor="middle" font-weight="normal" fill="#1a1a1a" stroke="#1a1a1a" stroke-width="0.08" >M+E+P</text>
<text x="361.00" y="271.20" font-size="8.5" text-anchor="middle" font-weight="normal" fill="#1a1a1a" stroke="#1a1a1a" stroke-width="0.08" >M+E</text>
<text x="402.90" y="271.20" font-size="8.5" text-anchor="middle" font-weight="normal" fill="#1a1a1a" stroke="#1a1a1a" stroke-width="0.08" >P+E</text>
<text x="445.40" y="271.20" font-size="8.5" text-anchor="middle" font-weight="normal" fill="#1a1a1a" stroke="#1a1a1a" stroke-width="0.08" >P</text>
<text x="490.00" y="255.90" font-size="8.5" text-anchor="middle" font-weight="normal" fill="#1a1a1a" stroke="#1a1a1a" stroke-width="0.08" >no recon-</text>
<text x="490.00" y="265.80" font-size="8.5" text-anchor="middle" font-weight="normal" fill="#1a1a1a" stroke="#1a1a1a" stroke-width="0.08" >stitution</text>
<text x="31.25" y="288.50" font-size="8.5" text-anchor="middle" font-weight="normal" fill="#1a1a1a" stroke="#1a1a1a" stroke-width="0.08" >CD41<tspan font-size="5.8" dy="-3.0" dx="0.5">-</tspan><tspan dy="3.0" font-size="1">&#8203;</tspan></text>
<text x="68.00" y="288.50" font-size="8.5" text-anchor="middle" font-weight="normal" fill="#1a1a1a" stroke="#1a1a1a" stroke-width="0.08" >20</text>
<text x="103.25" y="288.50" font-size="8.5" text-anchor="middle" font-weight="normal" fill="#1a1a1a" stroke="#1a1a1a" stroke-width="0.08" >9</text>
<text x="151.20" y="288.50" font-size="8.5" text-anchor="middle" font-weight="normal" fill="#1a1a1a" stroke="#1a1a1a" stroke-width="0.08" >1 (11%)</text>
<text x="213.50" y="288.50" font-size="8.5" text-anchor="middle" font-weight="normal" fill="#1a1a1a" stroke="#1a1a1a" stroke-width="0.08" >3 (33%)</text>
<text x="271.60" y="288.50" font-size="8.5" text-anchor="middle" font-weight="normal" fill="#1a1a1a" stroke="#1a1a1a" stroke-width="0.08" >4 (44%)</text>
<text x="318.80" y="288.50" font-size="8.5" text-anchor="middle" font-weight="normal" fill="#1a1a1a" stroke="#1a1a1a" stroke-width="0.08" >1 (11%)</text>
<text x="361.00" y="288.50" font-size="8.5" text-anchor="middle" font-weight="normal" fill="#1a1a1a" stroke="#1a1a1a" stroke-width="0.08" >0 (0%)</text>
<text x="402.90" y="288.50" font-size="8.5" text-anchor="middle" font-weight="normal" fill="#1a1a1a" stroke="#1a1a1a" stroke-width="0.08" >0 (0%)</text>
<text x="445.40" y="288.50" font-size="8.5" text-anchor="middle" font-weight="normal" fill="#1a1a1a" stroke="#1a1a1a" stroke-width="0.08" >0 (0%)</text>
<text x="491.00" y="288.50" font-size="8.5" text-anchor="middle" font-weight="normal" fill="#1a1a1a" stroke="#1a1a1a" stroke-width="0.08" >0 (0%)</text>
<text x="31.25" y="306.75" font-size="8.5" text-anchor="middle" font-weight="normal" fill="#1a1a1a" stroke="#1a1a1a" stroke-width="0.08" >CD41<tspan font-size="5.6" dy="-3.0" dx="0.5">+</tspan><tspan dy="3.0" font-size="1">&#8203;</tspan></text>
<text x="68.00" y="306.75" font-size="8.5" text-anchor="middle" font-weight="normal" fill="#1a1a1a" stroke="#1a1a1a" stroke-width="0.08" >20</text>
<text x="103.25" y="306.75" font-size="8.5" text-anchor="middle" font-weight="normal" fill="#1a1a1a" stroke="#1a1a1a" stroke-width="0.08" >10</text>
<text x="151.20" y="306.75" font-size="8.5" text-anchor="middle" font-weight="normal" fill="#1a1a1a" stroke="#1a1a1a" stroke-width="0.08" >0 (0%)</text>
<text x="213.50" y="306.75" font-size="8.5" text-anchor="middle" font-weight="normal" fill="#1a1a1a" stroke="#1a1a1a" stroke-width="0.08" >0 (0%)</text>
<text x="271.60" y="306.75" font-size="8.5" text-anchor="middle" font-weight="normal" fill="#1a1a1a" stroke="#1a1a1a" stroke-width="0.08" >1 (10%)</text>
<text x="318.80" y="306.75" font-size="8.5" text-anchor="middle" font-weight="normal" fill="#1a1a1a" stroke="#1a1a1a" stroke-width="0.08" >0 (0%)</text>
<text x="361.00" y="306.75" font-size="8.5" text-anchor="middle" font-weight="normal" fill="#1a1a1a" stroke="#1a1a1a" stroke-width="0.08" >1 (10%)</text>
<text x="402.90" y="306.75" font-size="8.5" text-anchor="middle" font-weight="normal" fill="#1a1a1a" stroke="#1a1a1a" stroke-width="0.08" >1 (10%)</text>
<text x="445.40" y="306.75" font-size="8.5" text-anchor="middle" font-weight="normal" fill="#1a1a1a" stroke="#1a1a1a" stroke-width="0.08" >3 (30%)</text>
<text x="491.00" y="306.75" font-size="8.5" text-anchor="middle" font-weight="normal" fill="#1a1a1a" stroke="#1a1a1a" stroke-width="0.08" >4 (40%)</text>
<text x="31.25" y="325.00" font-size="8.5" text-anchor="middle" font-weight="normal" fill="#1a1a1a" stroke="#1a1a1a" stroke-width="0.08" >CD41<tspan font-size="5.4" dy="-3.0" dx="0.5">Hi</tspan><tspan dy="3.0" font-size="1">&#8203;</tspan></text>
<text x="68.00" y="325.00" font-size="8.5" text-anchor="middle" font-weight="normal" fill="#1a1a1a" stroke="#1a1a1a" stroke-width="0.08" >20</text>
<text x="103.25" y="325.00" font-size="8.5" text-anchor="middle" font-weight="normal" fill="#1a1a1a" stroke="#1a1a1a" stroke-width="0.08" >9</text>
<text x="151.20" y="325.00" font-size="8.5" text-anchor="middle" font-weight="normal" fill="#1a1a1a" stroke="#1a1a1a" stroke-width="0.08" >0 (0%)</text>
<text x="213.50" y="325.00" font-size="8.5" text-anchor="middle" font-weight="normal" fill="#1a1a1a" stroke="#1a1a1a" stroke-width="0.08" >0 (0%)</text>
<text x="271.60" y="325.00" font-size="8.5" text-anchor="middle" font-weight="normal" fill="#1a1a1a" stroke="#1a1a1a" stroke-width="0.08" >0 (0%)</text>
<text x="318.80" y="325.00" font-size="8.5" text-anchor="middle" font-weight="normal" fill="#1a1a1a" stroke="#1a1a1a" stroke-width="0.08" >0 (0%)</text>
<text x="361.00" y="325.00" font-size="8.5" text-anchor="middle" font-weight="normal" fill="#1a1a1a" stroke="#1a1a1a" stroke-width="0.08" >0 (0%)</text>
<text x="402.90" y="325.00" font-size="8.5" text-anchor="middle" font-weight="normal" fill="#1a1a1a" stroke="#1a1a1a" stroke-width="0.08" >0 (0%)</text>
<text x="445.40" y="325.00" font-size="8.5" text-anchor="middle" font-weight="normal" fill="#1a1a1a" stroke="#1a1a1a" stroke-width="0.08" >0 (0%)</text>
<text x="491.00" y="325.00" font-size="8.5" text-anchor="middle" font-weight="normal" fill="#1a1a1a" stroke="#1a1a1a" stroke-width="0.08" >9 (100%)</text>
<text x="8.75" y="357.50" font-size="11.3" text-anchor="start" font-weight="bold" fill="#000" stroke="#000" stroke-width="0.1" >D</text>
<text x="30.00" y="373.60" font-size="8.6" font-weight="bold" fill="#000" stroke="#000" stroke-width="0.1" textLength="38.50" lengthAdjust="spacingAndGlyphs">LSKCD48</text>
<text x="68.40" y="369.70" font-size="6.4" font-weight="bold" fill="#000" stroke="#000" stroke-width="0.1" textLength="2.40" lengthAdjust="spacingAndGlyphs">-</text>
<text x="71.50" y="373.60" font-size="8.6" font-weight="bold" fill="#000" stroke="#000" stroke-width="0.1" textLength="27.20" lengthAdjust="spacingAndGlyphs">CD150</text>
<text x="98.80" y="369.70" font-size="6.4" font-weight="bold" fill="#000" stroke="#000" stroke-width="0.1" textLength="2.90" lengthAdjust="spacingAndGlyphs">+</text>
<text x="101.90" y="373.60" font-size="8.6" font-weight="bold" fill="#000" stroke="#000" stroke-width="0.1" textLength="21.30" lengthAdjust="spacingAndGlyphs">CD41</text>
<text x="124.70" y="369.70" font-size="6.4" font-weight="bold" fill="#000" stroke="#000" stroke-width="0.1" textLength="11.50" lengthAdjust="spacingAndGlyphs">+/Hi</text>
<text x="138.30" y="373.60" font-size="8.6" font-weight="bold" fill="#000" stroke="#000" stroke-width="0.1" textLength="42.60" lengthAdjust="spacingAndGlyphs">(100 cells)</text>
<text transform="translate(12.4,425.0) rotate(-90)" font-size="8.1" text-anchor="middle" fill="#1a1a1a" stroke="#1a1a1a" stroke-width="0.22">% donor cells</text>
<text x="31.40" y="476.60" font-size="9.2" text-anchor="start" font-weight="normal" fill="#1a1a1a" stroke="#1a1a1a" stroke-width="0.22" textLength="93" lengthAdjust="spacingAndGlyphs">Weeks post-transplantation</text>
<text x="79.00" y="393.00" font-size="8.5" text-anchor="middle" font-weight="normal" fill="#1a1a1a" stroke="#1a1a1a" stroke-width="0.22" >B Cells</text>
<polyline points="48.97,414.87 52.94,452.40" fill="none" stroke="#5f9dd6" stroke-width="1.2" stroke-linejoin="round"/>
<circle cx="48.97" cy="414.87" r="0.9" fill="#5f9dd6"/>
<circle cx="52.94" cy="452.40" r="0.9" fill="#5f9dd6"/>
<polyline points="48.97,452.40 52.94,431.56 60.88,452.40" fill="none" stroke="#5f9dd6" stroke-width="1.2" stroke-linejoin="round"/>
<circle cx="48.97" cy="452.40" r="0.9" fill="#5f9dd6"/>
<circle cx="52.94" cy="431.56" r="0.9" fill="#5f9dd6"/>
<circle cx="60.88" cy="452.40" r="0.9" fill="#5f9dd6"/>
<polyline points="52.94,452.40 60.88,425.29 80.73,414.87 96.61,415.47 108.52,416.17" fill="none" stroke="#5f9dd6" stroke-width="1.2" stroke-linejoin="round"/>
<circle cx="52.94" cy="452.40" r="0.9" fill="#5f9dd6"/>
<circle cx="60.88" cy="425.29" r="0.9" fill="#5f9dd6"/>
<circle cx="80.73" cy="414.87" r="0.9" fill="#5f9dd6"/>
<circle cx="96.61" cy="415.47" r="0.9" fill="#5f9dd6"/>
<circle cx="108.52" cy="416.17" r="0.9" fill="#5f9dd6"/>
<polyline points="60.88,452.40 80.73,416.99 96.61,418.00 108.52,419.31" fill="none" stroke="#5f9dd6" stroke-width="1.2" stroke-linejoin="round"/>
<circle cx="60.88" cy="452.40" r="0.9" fill="#5f9dd6"/>
<circle cx="80.73" cy="416.99" r="0.9" fill="#5f9dd6"/>
<circle cx="96.61" cy="418.00" r="0.9" fill="#5f9dd6"/>
<circle cx="108.52" cy="419.31" r="0.9" fill="#5f9dd6"/>
<polyline points="60.88,452.40 80.73,428.42 96.61,428.42 108.52,428.90" fill="none" stroke="#5f9dd6" stroke-width="1.2" stroke-linejoin="round"/>
<circle cx="60.88" cy="452.40" r="0.9" fill="#5f9dd6"/>
<circle cx="80.73" cy="428.42" r="0.9" fill="#5f9dd6"/>
<circle cx="96.61" cy="428.42" r="0.9" fill="#5f9dd6"/>
<circle cx="108.52" cy="428.90" r="0.9" fill="#5f9dd6"/>
<polyline points="60.88,452.40 80.73,444.29 96.61,452.40 108.52,452.40" fill="none" stroke="#5f9dd6" stroke-width="1.2" stroke-linejoin="round"/>
<circle cx="60.88" cy="452.40" r="0.9" fill="#5f9dd6"/>
<circle cx="80.73" cy="444.29" r="0.9" fill="#5f9dd6"/>
<circle cx="96.61" cy="452.40" r="0.9" fill="#5f9dd6"/>
<circle cx="108.52" cy="452.40" r="0.9" fill="#5f9dd6"/>
<line x1="45.00" y1="431.56" x2="111.80" y2="431.56" stroke="#333" stroke-width="1.3" />
<line x1="45.00" y1="397.80" x2="45.00" y2="453.40" stroke="#111" stroke-width="1.4" />
<line x1="44.30" y1="452.40" x2="109.50" y2="452.40" stroke="#111" stroke-width="1.8" />
<line x1="42.40" y1="400.30" x2="45.00" y2="400.30" stroke="#111" stroke-width="1.1" />
<text x="38.40" y="402.30" font-size="8.9" text-anchor="end" font-weight="normal" fill="#1a1a1a" stroke="#1a1a1a" stroke-width="0.22" textLength="13.23" lengthAdjust="spacingAndGlyphs">100</text>
<line x1="42.40" y1="410.72" x2="45.00" y2="410.72" stroke="#111" stroke-width="1.1" />
<text x="38.40" y="412.72" font-size="8.9" text-anchor="end" font-weight="normal" fill="#1a1a1a" stroke="#1a1a1a" stroke-width="0.22" textLength="8.82" lengthAdjust="spacingAndGlyphs">10</text>
<line x1="42.40" y1="421.14" x2="45.00" y2="421.14" stroke="#111" stroke-width="1.1" />
<text x="38.40" y="423.14" font-size="8.9" text-anchor="end" font-weight="normal" fill="#1a1a1a" stroke="#1a1a1a" stroke-width="0.22" textLength="4.42" lengthAdjust="spacingAndGlyphs">1</text>
<line x1="42.40" y1="431.56" x2="45.00" y2="431.56" stroke="#111" stroke-width="1.1" />
<text x="38.40" y="433.56" font-size="8.9" text-anchor="end" font-weight="normal" fill="#1a1a1a" stroke="#1a1a1a" stroke-width="0.22" textLength="11.02" lengthAdjust="spacingAndGlyphs">0.1</text>
<line x1="42.40" y1="441.98" x2="45.00" y2="441.98" stroke="#111" stroke-width="1.1" />
<text x="38.40" y="443.98" font-size="8.9" text-anchor="end" font-weight="normal" fill="#1a1a1a" stroke="#1a1a1a" stroke-width="0.22" textLength="15.43" lengthAdjust="spacingAndGlyphs">0.01</text>
<line x1="42.40" y1="452.40" x2="45.00" y2="452.40" stroke="#111" stroke-width="1.1" />
<text x="38.40" y="454.40" font-size="8.9" text-anchor="end" font-weight="normal" fill="#1a1a1a" stroke="#1a1a1a" stroke-width="0.22" textLength="19.83" lengthAdjust="spacingAndGlyphs">0.001</text>
<line x1="45.00" y1="452.40" x2="45.00" y2="454.60" stroke="#111" stroke-width="1.1" />
<text x="45.00" y="464.00" font-size="9.0" text-anchor="middle" font-weight="normal" fill="#1a1a1a" stroke="#1a1a1a" stroke-width="0.22" textLength="4.40" lengthAdjust="spacingAndGlyphs">0</text>
<line x1="60.88" y1="452.40" x2="60.88" y2="454.60" stroke="#111" stroke-width="1.1" />
<text x="60.88" y="464.00" font-size="9.0" text-anchor="middle" font-weight="normal" fill="#1a1a1a" stroke="#1a1a1a" stroke-width="0.22" textLength="4.40" lengthAdjust="spacingAndGlyphs">4</text>
<line x1="76.76" y1="452.40" x2="76.76" y2="454.60" stroke="#111" stroke-width="1.1" />
<text x="76.76" y="464.00" font-size="9.0" text-anchor="middle" font-weight="normal" fill="#1a1a1a" stroke="#1a1a1a" stroke-width="0.22" textLength="4.40" lengthAdjust="spacingAndGlyphs">8</text>
<line x1="92.64" y1="452.40" x2="92.64" y2="454.60" stroke="#111" stroke-width="1.1" />
<text x="92.64" y="464.00" font-size="9.0" text-anchor="middle" font-weight="normal" fill="#1a1a1a" stroke="#1a1a1a" stroke-width="0.22" textLength="8.80" lengthAdjust="spacingAndGlyphs">12</text>
<line x1="108.52" y1="452.40" x2="108.52" y2="454.60" stroke="#111" stroke-width="1.1" />
<text x="108.52" y="464.00" font-size="9.0" text-anchor="middle" font-weight="normal" fill="#1a1a1a" stroke="#1a1a1a" stroke-width="0.22" textLength="8.80" lengthAdjust="spacingAndGlyphs">16</text>
<text x="179.00" y="393.00" font-size="8.5" text-anchor="middle" font-weight="normal" fill="#1a1a1a" stroke="#1a1a1a" stroke-width="0.22" >T Cells</text>
<polyline points="148.97,428.42 152.94,452.40 160.88,438.84 180.73,424.28 196.61,425.29 208.52,425.29" fill="none" stroke="#5f9dd6" stroke-width="1.2" stroke-linejoin="round"/>
<circle cx="148.97" cy="428.42" r="0.9" fill="#5f9dd6"/>
<circle cx="152.94" cy="452.40" r="0.9" fill="#5f9dd6"/>
<circle cx="160.88" cy="438.84" r="0.9" fill="#5f9dd6"/>
<circle cx="180.73" cy="424.28" r="0.9" fill="#5f9dd6"/>
<circle cx="196.61" cy="425.29" r="0.9" fill="#5f9dd6"/>
<circle cx="208.52" cy="425.29" r="0.9" fill="#5f9dd6"/>
<polyline points="160.88,452.40 180.73,438.84 196.61,419.95 208.52,421.62" fill="none" stroke="#5f9dd6" stroke-width="1.2" stroke-linejoin="round"/>
<circle cx="160.88" cy="452.40" r="0.9" fill="#5f9dd6"/>
<circle cx="180.73" cy="438.84" r="0.9" fill="#5f9dd6"/>
<circle cx="196.61" cy="419.95" r="0.9" fill="#5f9dd6"/>
<circle cx="208.52" cy="421.62" r="0.9" fill="#5f9dd6"/>
<line x1="145.00" y1="431.56" x2="211.80" y2="431.56" stroke="#333" stroke-width="1.3" />
<line x1="145.00" y1="397.80" x2="145.00" y2="453.40" stroke="#111" stroke-width="1.4" />
<line x1="144.30" y1="452.40" x2="209.50" y2="452.40" stroke="#111" stroke-width="1.8" />
<line x1="142.40" y1="400.30" x2="145.00" y2="400.30" stroke="#111" stroke-width="1.1" />
<text x="138.40" y="402.30" font-size="8.9" text-anchor="end" font-weight="normal" fill="#1a1a1a" stroke="#1a1a1a" stroke-width="0.22" textLength="13.23" lengthAdjust="spacingAndGlyphs">100</text>
<line x1="142.40" y1="410.72" x2="145.00" y2="410.72" stroke="#111" stroke-width="1.1" />
<text x="138.40" y="412.72" font-size="8.9" text-anchor="end" font-weight="normal" fill="#1a1a1a" stroke="#1a1a1a" stroke-width="0.22" textLength="8.82" lengthAdjust="spacingAndGlyphs">10</text>
<line x1="142.40" y1="421.14" x2="145.00" y2="421.14" stroke="#111" stroke-width="1.1" />
<text x="138.40" y="423.14" font-size="8.9" text-anchor="end" font-weight="normal" fill="#1a1a1a" stroke="#1a1a1a" stroke-width="0.22" textLength="4.42" lengthAdjust="spacingAndGlyphs">1</text>
<line x1="142.40" y1="431.56" x2="145.00" y2="431.56" stroke="#111" stroke-width="1.1" />
<text x="138.40" y="433.56" font-size="8.9" text-anchor="end" font-weight="normal" fill="#1a1a1a" stroke="#1a1a1a" stroke-width="0.22" textLength="11.02" lengthAdjust="spacingAndGlyphs">0.1</text>
<line x1="142.40" y1="441.98" x2="145.00" y2="441.98" stroke="#111" stroke-width="1.1" />
<text x="138.40" y="443.98" font-size="8.9" text-anchor="end" font-weight="normal" fill="#1a1a1a" stroke="#1a1a1a" stroke-width="0.22" textLength="15.43" lengthAdjust="spacingAndGlyphs">0.01</text>
<line x1="142.40" y1="452.40" x2="145.00" y2="452.40" stroke="#111" stroke-width="1.1" />
<text x="138.40" y="454.40" font-size="8.9" text-anchor="end" font-weight="normal" fill="#1a1a1a" stroke="#1a1a1a" stroke-width="0.22" textLength="19.83" lengthAdjust="spacingAndGlyphs">0.001</text>
<line x1="145.00" y1="452.40" x2="145.00" y2="454.60" stroke="#111" stroke-width="1.1" />
<text x="145.00" y="464.00" font-size="9.0" text-anchor="middle" font-weight="normal" fill="#1a1a1a" stroke="#1a1a1a" stroke-width="0.22" textLength="4.40" lengthAdjust="spacingAndGlyphs">0</text>
<line x1="160.88" y1="452.40" x2="160.88" y2="454.60" stroke="#111" stroke-width="1.1" />
<text x="160.88" y="464.00" font-size="9.0" text-anchor="middle" font-weight="normal" fill="#1a1a1a" stroke="#1a1a1a" stroke-width="0.22" textLength="4.40" lengthAdjust="spacingAndGlyphs">4</text>
<line x1="176.76" y1="452.40" x2="176.76" y2="454.60" stroke="#111" stroke-width="1.1" />
<text x="176.76" y="464.00" font-size="9.0" text-anchor="middle" font-weight="normal" fill="#1a1a1a" stroke="#1a1a1a" stroke-width="0.22" textLength="4.40" lengthAdjust="spacingAndGlyphs">8</text>
<line x1="192.64" y1="452.40" x2="192.64" y2="454.60" stroke="#111" stroke-width="1.1" />
<text x="192.64" y="464.00" font-size="9.0" text-anchor="middle" font-weight="normal" fill="#1a1a1a" stroke="#1a1a1a" stroke-width="0.22" textLength="8.80" lengthAdjust="spacingAndGlyphs">12</text>
<line x1="208.52" y1="452.40" x2="208.52" y2="454.60" stroke="#111" stroke-width="1.1" />
<text x="208.52" y="464.00" font-size="9.0" text-anchor="middle" font-weight="normal" fill="#1a1a1a" stroke="#1a1a1a" stroke-width="0.22" textLength="8.80" lengthAdjust="spacingAndGlyphs">16</text>
<text x="279.00" y="393.00" font-size="8.5" text-anchor="middle" font-weight="normal" fill="#1a1a1a" stroke="#1a1a1a" stroke-width="0.22" >Myeloid</text>
<polyline points="248.97,429.73 252.94,452.40" fill="none" stroke="#5f9dd6" stroke-width="1.2" stroke-linejoin="round"/>
<circle cx="248.97" cy="429.73" r="0.9" fill="#5f9dd6"/>
<circle cx="252.94" cy="452.40" r="0.9" fill="#5f9dd6"/>
<polyline points="248.97,452.40 252.94,437.01 256.91,452.40" fill="none" stroke="#5f9dd6" stroke-width="1.2" stroke-linejoin="round"/>
<circle cx="248.97" cy="452.40" r="0.9" fill="#5f9dd6"/>
<circle cx="252.94" cy="437.01" r="0.9" fill="#5f9dd6"/>
<circle cx="256.91" cy="452.40" r="0.9" fill="#5f9dd6"/>
<polyline points="252.94,452.40 260.88,413.86 280.73,426.59 296.61,445.12 308.52,452.40" fill="none" stroke="#5f9dd6" stroke-width="1.2" stroke-linejoin="round"/>
<circle cx="252.94" cy="452.40" r="0.9" fill="#5f9dd6"/>
<circle cx="260.88" cy="413.86" r="0.9" fill="#5f9dd6"/>
<circle cx="280.73" cy="426.59" r="0.9" fill="#5f9dd6"/>
<circle cx="296.61" cy="445.12" r="0.9" fill="#5f9dd6"/>
<circle cx="308.52" cy="452.40" r="0.9" fill="#5f9dd6"/>
<polyline points="252.94,452.40 260.88,429.73 280.73,413.03 296.61,421.14 308.52,430.37" fill="none" stroke="#5f9dd6" stroke-width="1.2" stroke-linejoin="round"/>
<circle cx="252.94" cy="452.40" r="0.9" fill="#5f9dd6"/>
<circle cx="260.88" cy="429.73" r="0.9" fill="#5f9dd6"/>
<circle cx="280.73" cy="413.03" r="0.9" fill="#5f9dd6"/>
<circle cx="296.61" cy="421.14" r="0.9" fill="#5f9dd6"/>
<circle cx="308.52" cy="430.37" r="0.9" fill="#5f9dd6"/>
<polyline points="256.91,452.40 260.88,429.73 280.73,428.42 296.61,434.70 308.52,452.40" fill="none" stroke="#5f9dd6" stroke-width="1.2" stroke-linejoin="round"/>
<circle cx="256.91" cy="452.40" r="0.9" fill="#5f9dd6"/>
<circle cx="260.88" cy="429.73" r="0.9" fill="#5f9dd6"/>
<circle cx="280.73" cy="428.42" r="0.9" fill="#5f9dd6"/>
<circle cx="296.61" cy="434.70" r="0.9" fill="#5f9dd6"/>
<circle cx="308.52" cy="452.40" r="0.9" fill="#5f9dd6"/>
<polyline points="252.94,452.40 260.88,445.12 280.73,452.40" fill="none" stroke="#5f9dd6" stroke-width="1.2" stroke-linejoin="round"/>
<circle cx="252.94" cy="452.40" r="0.9" fill="#5f9dd6"/>
<circle cx="260.88" cy="445.12" r="0.9" fill="#5f9dd6"/>
<circle cx="280.73" cy="452.40" r="0.9" fill="#5f9dd6"/>
<line x1="245.00" y1="431.56" x2="311.80" y2="431.56" stroke="#333" stroke-width="1.3" />
<line x1="245.00" y1="397.80" x2="245.00" y2="453.40" stroke="#111" stroke-width="1.4" />
<line x1="244.30" y1="452.40" x2="309.50" y2="452.40" stroke="#111" stroke-width="1.8" />
<line x1="242.40" y1="400.30" x2="245.00" y2="400.30" stroke="#111" stroke-width="1.1" />
<text x="238.40" y="402.30" font-size="8.9" text-anchor="end" font-weight="normal" fill="#1a1a1a" stroke="#1a1a1a" stroke-width="0.22" textLength="13.23" lengthAdjust="spacingAndGlyphs">100</text>
<line x1="242.40" y1="410.72" x2="245.00" y2="410.72" stroke="#111" stroke-width="1.1" />
<text x="238.40" y="412.72" font-size="8.9" text-anchor="end" font-weight="normal" fill="#1a1a1a" stroke="#1a1a1a" stroke-width="0.22" textLength="8.82" lengthAdjust="spacingAndGlyphs">10</text>
<line x1="242.40" y1="421.14" x2="245.00" y2="421.14" stroke="#111" stroke-width="1.1" />
<text x="238.40" y="423.14" font-size="8.9" text-anchor="end" font-weight="normal" fill="#1a1a1a" stroke="#1a1a1a" stroke-width="0.22" textLength="4.42" lengthAdjust="spacingAndGlyphs">1</text>
<line x1="242.40" y1="431.56" x2="245.00" y2="431.56" stroke="#111" stroke-width="1.1" />
<text x="238.40" y="433.56" font-size="8.9" text-anchor="end" font-weight="normal" fill="#1a1a1a" stroke="#1a1a1a" stroke-width="0.22" textLength="11.02" lengthAdjust="spacingAndGlyphs">0.1</text>
<line x1="242.40" y1="441.98" x2="245.00" y2="441.98" stroke="#111" stroke-width="1.1" />
<text x="238.40" y="443.98" font-size="8.9" text-anchor="end" font-weight="normal" fill="#1a1a1a" stroke="#1a1a1a" stroke-width="0.22" textLength="15.43" lengthAdjust="spacingAndGlyphs">0.01</text>
<line x1="242.40" y1="452.40" x2="245.00" y2="452.40" stroke="#111" stroke-width="1.1" />
<text x="238.40" y="454.40" font-size="8.9" text-anchor="end" font-weight="normal" fill="#1a1a1a" stroke="#1a1a1a" stroke-width="0.22" textLength="19.83" lengthAdjust="spacingAndGlyphs">0.001</text>
<line x1="245.00" y1="452.40" x2="245.00" y2="454.60" stroke="#111" stroke-width="1.1" />
<text x="245.00" y="464.00" font-size="9.0" text-anchor="middle" font-weight="normal" fill="#1a1a1a" stroke="#1a1a1a" stroke-width="0.22" textLength="4.40" lengthAdjust="spacingAndGlyphs">0</text>
<line x1="260.88" y1="452.40" x2="260.88" y2="454.60" stroke="#111" stroke-width="1.1" />
<text x="260.88" y="464.00" font-size="9.0" text-anchor="middle" font-weight="normal" fill="#1a1a1a" stroke="#1a1a1a" stroke-width="0.22" textLength="4.40" lengthAdjust="spacingAndGlyphs">4</text>
<line x1="276.76" y1="452.40" x2="276.76" y2="454.60" stroke="#111" stroke-width="1.1" />
<text x="276.76" y="464.00" font-size="9.0" text-anchor="middle" font-weight="normal" fill="#1a1a1a" stroke="#1a1a1a" stroke-width="0.22" textLength="4.40" lengthAdjust="spacingAndGlyphs">8</text>
<line x1="292.64" y1="452.40" x2="292.64" y2="454.60" stroke="#111" stroke-width="1.1" />
<text x="292.64" y="464.00" font-size="9.0" text-anchor="middle" font-weight="normal" fill="#1a1a1a" stroke="#1a1a1a" stroke-width="0.22" textLength="8.80" lengthAdjust="spacingAndGlyphs">12</text>
<line x1="308.52" y1="452.40" x2="308.52" y2="454.60" stroke="#111" stroke-width="1.1" />
<text x="308.52" y="464.00" font-size="9.0" text-anchor="middle" font-weight="normal" fill="#1a1a1a" stroke="#1a1a1a" stroke-width="0.22" textLength="8.80" lengthAdjust="spacingAndGlyphs">16</text>
<text x="379.00" y="393.00" font-size="8.5" text-anchor="middle" font-weight="normal" fill="#1a1a1a" stroke="#1a1a1a" stroke-width="0.22" >Erythroid</text>
<polyline points="360.88,452.40 380.73,411.73 396.61,410.72 408.52,418.00" fill="none" stroke="#5f9dd6" stroke-width="1.2" stroke-linejoin="round"/>
<circle cx="360.88" cy="452.40" r="0.9" fill="#5f9dd6"/>
<circle cx="380.73" cy="411.73" r="0.9" fill="#5f9dd6"/>
<circle cx="396.61" cy="410.72" r="0.9" fill="#5f9dd6"/>
<circle cx="408.52" cy="418.00" r="0.9" fill="#5f9dd6"/>
<polyline points="352.94,431.56 360.88,426.59 380.73,419.31 396.61,419.31 408.52,431.56" fill="none" stroke="#5f9dd6" stroke-width="1.2" stroke-linejoin="round"/>
<circle cx="352.94" cy="431.56" r="0.9" fill="#5f9dd6"/>
<circle cx="360.88" cy="426.59" r="0.9" fill="#5f9dd6"/>
<circle cx="380.73" cy="419.31" r="0.9" fill="#5f9dd6"/>
<circle cx="396.61" cy="419.31" r="0.9" fill="#5f9dd6"/>
<circle cx="408.52" cy="431.56" r="0.9" fill="#5f9dd6"/>
<polyline points="352.94,434.70 360.88,429.73 380.73,420.31 396.61,429.73 408.52,452.40" fill="none" stroke="#5f9dd6" stroke-width="1.2" stroke-linejoin="round"/>
<circle cx="352.94" cy="434.70" r="0.9" fill="#5f9dd6"/>
<circle cx="360.88" cy="429.73" r="0.9" fill="#5f9dd6"/>
<circle cx="380.73" cy="420.31" r="0.9" fill="#5f9dd6"/>
<circle cx="396.61" cy="429.73" r="0.9" fill="#5f9dd6"/>
<circle cx="408.52" cy="452.40" r="0.9" fill="#5f9dd6"/>
<polyline points="352.94,438.84 360.88,434.70 380.73,435.71 396.61,452.40" fill="none" stroke="#5f9dd6" stroke-width="1.2" stroke-linejoin="round"/>
<circle cx="352.94" cy="438.84" r="0.9" fill="#5f9dd6"/>
<circle cx="360.88" cy="434.70" r="0.9" fill="#5f9dd6"/>
<circle cx="380.73" cy="435.71" r="0.9" fill="#5f9dd6"/>
<circle cx="396.61" cy="452.40" r="0.9" fill="#5f9dd6"/>
<polyline points="352.94,441.98 360.88,438.84 380.73,438.84 396.61,452.40" fill="none" stroke="#5f9dd6" stroke-width="1.2" stroke-linejoin="round"/>
<circle cx="352.94" cy="441.98" r="0.9" fill="#5f9dd6"/>
<circle cx="360.88" cy="438.84" r="0.9" fill="#5f9dd6"/>
<circle cx="380.73" cy="438.84" r="0.9" fill="#5f9dd6"/>
<circle cx="396.61" cy="452.40" r="0.9" fill="#5f9dd6"/>
<polyline points="348.97,449.26 352.94,447.43 360.88,445.12 380.73,447.43 396.61,452.40 408.52,445.12" fill="none" stroke="#5f9dd6" stroke-width="1.2" stroke-linejoin="round"/>
<circle cx="348.97" cy="449.26" r="0.9" fill="#5f9dd6"/>
<circle cx="352.94" cy="447.43" r="0.9" fill="#5f9dd6"/>
<circle cx="360.88" cy="445.12" r="0.9" fill="#5f9dd6"/>
<circle cx="380.73" cy="447.43" r="0.9" fill="#5f9dd6"/>
<circle cx="396.61" cy="452.40" r="0.9" fill="#5f9dd6"/>
<circle cx="408.52" cy="445.12" r="0.9" fill="#5f9dd6"/>
<polyline points="348.97,449.26 352.94,452.40 360.88,447.43 380.73,441.98 396.61,452.40" fill="none" stroke="#1e2f5e" stroke-width="1.5" stroke-linejoin="round"/>
<circle cx="348.97" cy="449.26" r="0.9" fill="#1e2f5e"/>
<circle cx="352.94" cy="452.40" r="0.9" fill="#1e2f5e"/>
<circle cx="360.88" cy="447.43" r="0.9" fill="#1e2f5e"/>
<circle cx="380.73" cy="441.98" r="0.9" fill="#1e2f5e"/>
<circle cx="396.61" cy="452.40" r="0.9" fill="#1e2f5e"/>
<polyline points="348.97,452.40 352.94,449.26 360.88,449.26 380.73,445.12 396.61,452.40" fill="none" stroke="#1e2f5e" stroke-width="1.5" stroke-linejoin="round"/>
<circle cx="348.97" cy="452.40" r="0.9" fill="#1e2f5e"/>
<circle cx="352.94" cy="449.26" r="0.9" fill="#1e2f5e"/>
<circle cx="360.88" cy="449.26" r="0.9" fill="#1e2f5e"/>
<circle cx="380.73" cy="445.12" r="0.9" fill="#1e2f5e"/>
<circle cx="396.61" cy="452.40" r="0.9" fill="#1e2f5e"/>
<polyline points="360.88,452.40 380.73,449.26 396.61,452.40" fill="none" stroke="#1e2f5e" stroke-width="1.5" stroke-linejoin="round"/>
<circle cx="360.88" cy="452.40" r="0.9" fill="#1e2f5e"/>
<circle cx="380.73" cy="449.26" r="0.9" fill="#1e2f5e"/>
<circle cx="396.61" cy="452.40" r="0.9" fill="#1e2f5e"/>
<polyline points="348.97,452.40 352.94,450.57 360.88,451.57 380.73,450.57 396.61,452.40" fill="none" stroke="#1e2f5e" stroke-width="1.5" stroke-linejoin="round"/>
<circle cx="348.97" cy="452.40" r="0.9" fill="#1e2f5e"/>
<circle cx="352.94" cy="450.57" r="0.9" fill="#1e2f5e"/>
<circle cx="360.88" cy="451.57" r="0.9" fill="#1e2f5e"/>
<circle cx="380.73" cy="450.57" r="0.9" fill="#1e2f5e"/>
<circle cx="396.61" cy="452.40" r="0.9" fill="#1e2f5e"/>
<line x1="345.00" y1="431.56" x2="411.80" y2="431.56" stroke="#333" stroke-width="1.3" />
<line x1="345.00" y1="397.80" x2="345.00" y2="453.40" stroke="#111" stroke-width="1.4" />
<line x1="344.30" y1="452.40" x2="409.50" y2="452.40" stroke="#111" stroke-width="1.8" />
<line x1="342.40" y1="400.30" x2="345.00" y2="400.30" stroke="#111" stroke-width="1.1" />
<text x="338.40" y="402.30" font-size="8.9" text-anchor="end" font-weight="normal" fill="#1a1a1a" stroke="#1a1a1a" stroke-width="0.22" textLength="13.23" lengthAdjust="spacingAndGlyphs">100</text>
<line x1="342.40" y1="410.72" x2="345.00" y2="410.72" stroke="#111" stroke-width="1.1" />
<text x="338.40" y="412.72" font-size="8.9" text-anchor="end" font-weight="normal" fill="#1a1a1a" stroke="#1a1a1a" stroke-width="0.22" textLength="8.82" lengthAdjust="spacingAndGlyphs">10</text>
<line x1="342.40" y1="421.14" x2="345.00" y2="421.14" stroke="#111" stroke-width="1.1" />
<text x="338.40" y="423.14" font-size="8.9" text-anchor="end" font-weight="normal" fill="#1a1a1a" stroke="#1a1a1a" stroke-width="0.22" textLength="4.42" lengthAdjust="spacingAndGlyphs">1</text>
<line x1="342.40" y1="431.56" x2="345.00" y2="431.56" stroke="#111" stroke-width="1.1" />
<text x="338.40" y="433.56" font-size="8.9" text-anchor="end" font-weight="normal" fill="#1a1a1a" stroke="#1a1a1a" stroke-width="0.22" textLength="11.02" lengthAdjust="spacingAndGlyphs">0.1</text>
<line x1="342.40" y1="441.98" x2="345.00" y2="441.98" stroke="#111" stroke-width="1.1" />
<text x="338.40" y="443.98" font-size="8.9" text-anchor="end" font-weight="normal" fill="#1a1a1a" stroke="#1a1a1a" stroke-width="0.22" textLength="15.43" lengthAdjust="spacingAndGlyphs">0.01</text>
<line x1="342.40" y1="452.40" x2="345.00" y2="452.40" stroke="#111" stroke-width="1.1" />
<text x="338.40" y="454.40" font-size="8.9" text-anchor="end" font-weight="normal" fill="#1a1a1a" stroke="#1a1a1a" stroke-width="0.22" textLength="19.83" lengthAdjust="spacingAndGlyphs">0.001</text>
<line x1="345.00" y1="452.40" x2="345.00" y2="454.60" stroke="#111" stroke-width="1.1" />
<text x="345.00" y="464.00" font-size="9.0" text-anchor="middle" font-weight="normal" fill="#1a1a1a" stroke="#1a1a1a" stroke-width="0.22" textLength="4.40" lengthAdjust="spacingAndGlyphs">0</text>
<line x1="360.88" y1="452.40" x2="360.88" y2="454.60" stroke="#111" stroke-width="1.1" />
<text x="360.88" y="464.00" font-size="9.0" text-anchor="middle" font-weight="normal" fill="#1a1a1a" stroke="#1a1a1a" stroke-width="0.22" textLength="4.40" lengthAdjust="spacingAndGlyphs">4</text>
<line x1="376.76" y1="452.40" x2="376.76" y2="454.60" stroke="#111" stroke-width="1.1" />
<text x="376.76" y="464.00" font-size="9.0" text-anchor="middle" font-weight="normal" fill="#1a1a1a" stroke="#1a1a1a" stroke-width="0.22" textLength="4.40" lengthAdjust="spacingAndGlyphs">8</text>
<line x1="392.64" y1="452.40" x2="392.64" y2="454.60" stroke="#111" stroke-width="1.1" />
<text x="392.64" y="464.00" font-size="9.0" text-anchor="middle" font-weight="normal" fill="#1a1a1a" stroke="#1a1a1a" stroke-width="0.22" textLength="8.80" lengthAdjust="spacingAndGlyphs">12</text>
<line x1="408.52" y1="452.40" x2="408.52" y2="454.60" stroke="#111" stroke-width="1.1" />
<text x="408.52" y="464.00" font-size="9.0" text-anchor="middle" font-weight="normal" fill="#1a1a1a" stroke="#1a1a1a" stroke-width="0.22" textLength="8.80" lengthAdjust="spacingAndGlyphs">16</text>
<text x="479.00" y="393.00" font-size="8.5" text-anchor="middle" font-weight="normal" fill="#1a1a1a" stroke="#1a1a1a" stroke-width="0.22" >Platelets</text>
<polyline points="448.97,424.28 452.94,418.00 460.88,409.89 480.73,416.17 496.61,428.42 508.52,452.40" fill="none" stroke="#5f9dd6" stroke-width="1.2" stroke-linejoin="round"/>
<circle cx="448.97" cy="424.28" r="0.9" fill="#5f9dd6"/>
<circle cx="452.94" cy="418.00" r="0.9" fill="#5f9dd6"/>
<circle cx="460.88" cy="409.89" r="0.9" fill="#5f9dd6"/>
<circle cx="480.73" cy="416.17" r="0.9" fill="#5f9dd6"/>
<circle cx="496.61" cy="428.42" r="0.9" fill="#5f9dd6"/>
<circle cx="508.52" cy="452.40" r="0.9" fill="#5f9dd6"/>
<polyline points="448.97,426.59 452.94,418.00 460.88,414.87 480.73,431.56 496.61,452.40 508.52,437.01" fill="none" stroke="#5f9dd6" stroke-width="1.2" stroke-linejoin="round"/>
<circle cx="448.97" cy="426.59" r="0.9" fill="#5f9dd6"/>
<circle cx="452.94" cy="418.00" r="0.9" fill="#5f9dd6"/>
<circle cx="460.88" cy="414.87" r="0.9" fill="#5f9dd6"/>
<circle cx="480.73" cy="431.56" r="0.9" fill="#5f9dd6"/>
<circle cx="496.61" cy="452.40" r="0.9" fill="#5f9dd6"/>
<circle cx="508.52" cy="437.01" r="0.9" fill="#5f9dd6"/>
<polyline points="460.88,414.87 480.73,452.40" fill="none" stroke="#5f9dd6" stroke-width="1.2" stroke-linejoin="round"/>
<circle cx="460.88" cy="414.87" r="0.9" fill="#5f9dd6"/>
<circle cx="480.73" cy="452.40" r="0.9" fill="#5f9dd6"/>
<polyline points="448.97,452.40 452.94,419.31 460.88,452.40" fill="none" stroke="#5f9dd6" stroke-width="1.2" stroke-linejoin="round"/>
<circle cx="448.97" cy="452.40" r="0.9" fill="#5f9dd6"/>
<circle cx="452.94" cy="419.31" r="0.9" fill="#5f9dd6"/>
<circle cx="460.88" cy="452.40" r="0.9" fill="#5f9dd6"/>
<polyline points="448.97,428.42 452.94,416.99 456.91,452.40" fill="none" stroke="#5f9dd6" stroke-width="1.2" stroke-linejoin="round"/>
<circle cx="448.97" cy="428.42" r="0.9" fill="#5f9dd6"/>
<circle cx="452.94" cy="416.99" r="0.9" fill="#5f9dd6"/>
<circle cx="456.91" cy="452.40" r="0.9" fill="#5f9dd6"/>
<line x1="445.00" y1="431.56" x2="511.80" y2="431.56" stroke="#333" stroke-width="1.3" />
<line x1="445.00" y1="397.80" x2="445.00" y2="453.40" stroke="#111" stroke-width="1.4" />
<line x1="444.30" y1="452.40" x2="509.50" y2="452.40" stroke="#111" stroke-width="1.8" />
<line x1="442.40" y1="400.30" x2="445.00" y2="400.30" stroke="#111" stroke-width="1.1" />
<text x="438.40" y="402.30" font-size="8.9" text-anchor="end" font-weight="normal" fill="#1a1a1a" stroke="#1a1a1a" stroke-width="0.22" textLength="13.23" lengthAdjust="spacingAndGlyphs">100</text>
<line x1="442.40" y1="410.72" x2="445.00" y2="410.72" stroke="#111" stroke-width="1.1" />
<text x="438.40" y="412.72" font-size="8.9" text-anchor="end" font-weight="normal" fill="#1a1a1a" stroke="#1a1a1a" stroke-width="0.22" textLength="8.82" lengthAdjust="spacingAndGlyphs">10</text>
<line x1="442.40" y1="421.14" x2="445.00" y2="421.14" stroke="#111" stroke-width="1.1" />
<text x="438.40" y="423.14" font-size="8.9" text-anchor="end" font-weight="normal" fill="#1a1a1a" stroke="#1a1a1a" stroke-width="0.22" textLength="4.42" lengthAdjust="spacingAndGlyphs">1</text>
<line x1="442.40" y1="431.56" x2="445.00" y2="431.56" stroke="#111" stroke-width="1.1" />
<text x="438.40" y="433.56" font-size="8.9" text-anchor="end" font-weight="normal" fill="#1a1a1a" stroke="#1a1a1a" stroke-width="0.22" textLength="11.02" lengthAdjust="spacingAndGlyphs">0.1</text>
<line x1="442.40" y1="441.98" x2="445.00" y2="441.98" stroke="#111" stroke-width="1.1" />
<text x="438.40" y="443.98" font-size="8.9" text-anchor="end" font-weight="normal" fill="#1a1a1a" stroke="#1a1a1a" stroke-width="0.22" textLength="15.43" lengthAdjust="spacingAndGlyphs">0.01</text>
<line x1="442.40" y1="452.40" x2="445.00" y2="452.40" stroke="#111" stroke-width="1.1" />
<text x="438.40" y="454.40" font-size="8.9" text-anchor="end" font-weight="normal" fill="#1a1a1a" stroke="#1a1a1a" stroke-width="0.22" textLength="19.83" lengthAdjust="spacingAndGlyphs">0.001</text>
<line x1="445.00" y1="452.40" x2="445.00" y2="454.60" stroke="#111" stroke-width="1.1" />
<text x="445.00" y="464.00" font-size="9.0" text-anchor="middle" font-weight="normal" fill="#1a1a1a" stroke="#1a1a1a" stroke-width="0.22" textLength="4.40" lengthAdjust="spacingAndGlyphs">0</text>
<line x1="460.88" y1="452.40" x2="460.88" y2="454.60" stroke="#111" stroke-width="1.1" />
<text x="460.88" y="464.00" font-size="9.0" text-anchor="middle" font-weight="normal" fill="#1a1a1a" stroke="#1a1a1a" stroke-width="0.22" textLength="4.40" lengthAdjust="spacingAndGlyphs">4</text>
<line x1="476.76" y1="452.40" x2="476.76" y2="454.60" stroke="#111" stroke-width="1.1" />
<text x="476.76" y="464.00" font-size="9.0" text-anchor="middle" font-weight="normal" fill="#1a1a1a" stroke="#1a1a1a" stroke-width="0.22" textLength="4.40" lengthAdjust="spacingAndGlyphs">8</text>
<line x1="492.64" y1="452.40" x2="492.64" y2="454.60" stroke="#111" stroke-width="1.1" />
<text x="492.64" y="464.00" font-size="9.0" text-anchor="middle" font-weight="normal" fill="#1a1a1a" stroke="#1a1a1a" stroke-width="0.22" textLength="8.80" lengthAdjust="spacingAndGlyphs">12</text>
<line x1="508.52" y1="452.40" x2="508.52" y2="454.60" stroke="#111" stroke-width="1.1" />
<text x="508.52" y="464.00" font-size="9.0" text-anchor="middle" font-weight="normal" fill="#1a1a1a" stroke="#1a1a1a" stroke-width="0.22" textLength="8.80" lengthAdjust="spacingAndGlyphs">16</text>
<line x1="237.70" y1="474.70" x2="251.00" y2="474.70" stroke="#5f9dd6" stroke-width="1.1" />
<circle cx="244.35" cy="474.70" r="1.1" fill="#5f9dd6"/>
<text x="252.70" y="477.60" font-size="8.2" text-anchor="start" font-weight="normal" fill="#1a1a1a" stroke="#1a1a1a" stroke-width="0.05" >CD41<tspan font-size="5.6" dy="-3.0" dx="0.5">+</tspan><tspan dy="3.0" font-size="1">&#8203;</tspan></text>
<line x1="282.70" y1="474.70" x2="295.40" y2="474.70" stroke="#111" stroke-width="1.1" />
<circle cx="289.05" cy="474.70" r="1.1" fill="#111"/>
<text x="297.70" y="477.60" font-size="8.2" text-anchor="start" font-weight="normal" fill="#1a1a1a" stroke="#1a1a1a" stroke-width="0.05" >CD41<tspan font-size="5.4" dy="-3.0" dx="0.5">Hi</tspan><tspan dy="3.0" font-size="1">&#8203;</tspan></text>
<text x="8.00" y="497.30" font-size="11.3" text-anchor="start" font-weight="bold" fill="#000" stroke="#000" stroke-width="0.1" >E</text>
<line x1="10.00" y1="503.70" x2="460.00" y2="503.70" stroke="#2a2a2a" stroke-width="1.4" />
<line x1="174.90" y1="521.70" x2="406.80" y2="521.70" stroke="#2a2a2a" stroke-width="1.2" />
<line x1="10.00" y1="539.70" x2="460.00" y2="539.70" stroke="#2a2a2a" stroke-width="1.4" />
<line x1="10.00" y1="558.60" x2="460.00" y2="558.60" stroke="#2a2a2a" stroke-width="1.4" />
<line x1="10.00" y1="576.10" x2="460.00" y2="576.10" stroke="#2a2a2a" stroke-width="1.4" />
<text x="30.00" y="524.25" font-size="8.5" text-anchor="middle" font-weight="normal" fill="#1a1a1a" stroke="#1a1a1a" stroke-width="0.08" >Fraction</text>
<text x="74.25" y="524.25" font-size="8.5" text-anchor="middle" font-weight="normal" fill="#1a1a1a" stroke="#1a1a1a" stroke-width="0.08" >Cell dose</text>
<text x="116.75" y="519.25" font-size="8.5" text-anchor="middle" font-weight="normal" fill="#1a1a1a" stroke="#1a1a1a" stroke-width="0.08" >Total</text>
<text x="116.75" y="530.00" font-size="8.5" text-anchor="middle" font-weight="normal" fill="#1a1a1a" stroke="#1a1a1a" stroke-width="0.08" >mice #</text>
<text x="155.20" y="519.80" font-size="8.5" text-anchor="middle" font-weight="normal" fill="#1a1a1a" stroke="#1a1a1a" stroke-width="0.08" >Long-</text>
<text x="155.20" y="529.30" font-size="8.5" text-anchor="middle" font-weight="normal" fill="#1a1a1a" stroke="#1a1a1a" stroke-width="0.08" >term</text>
<text x="291.40" y="515.00" font-size="8.5" text-anchor="middle" font-weight="normal" fill="#1a1a1a" stroke="#1a1a1a" stroke-width="0.08" >Transient</text>
<text x="205.00" y="534.70" font-size="8.5" text-anchor="middle" font-weight="normal" fill="#1a1a1a" stroke="#1a1a1a" stroke-width="0.08" >B+T+M+E+P</text>
<text x="259.10" y="534.70" font-size="8.5" text-anchor="middle" font-weight="normal" fill="#1a1a1a" stroke="#1a1a1a" stroke-width="0.08" >B+T+E</text>
<text x="302.20" y="534.70" font-size="8.5" text-anchor="middle" font-weight="normal" fill="#1a1a1a" stroke="#1a1a1a" stroke-width="0.08" >B+M+E</text>
<text x="344.40" y="534.70" font-size="8.5" text-anchor="middle" font-weight="normal" fill="#1a1a1a" stroke="#1a1a1a" stroke-width="0.08" >M+P</text>
<text x="387.10" y="534.70" font-size="8.5" text-anchor="middle" font-weight="normal" fill="#1a1a1a" stroke="#1a1a1a" stroke-width="0.08" >P</text>
<text x="434.20" y="519.80" font-size="8.5" text-anchor="middle" font-weight="normal" fill="#1a1a1a" stroke="#1a1a1a" stroke-width="0.08" >no recon-</text>
<text x="434.20" y="529.30" font-size="8.5" text-anchor="middle" font-weight="normal" fill="#1a1a1a" stroke="#1a1a1a" stroke-width="0.08" >stitution</text>
<text x="30.00" y="552.20" font-size="8.5" text-anchor="middle" font-weight="normal" fill="#1a1a1a" stroke="#1a1a1a" stroke-width="0.08" >CD41<tspan font-size="5.6" dy="-3.0" dx="0.5">+</tspan><tspan dy="3.0" font-size="1">&#8203;</tspan></text>
<text x="74.25" y="552.20" font-size="8.5" text-anchor="middle" font-weight="normal" fill="#1a1a1a" stroke="#1a1a1a" stroke-width="0.08" >100</text>
<text x="116.75" y="552.20" font-size="8.5" text-anchor="middle" font-weight="normal" fill="#1a1a1a" stroke="#1a1a1a" stroke-width="0.08" >6</text>
<text x="155.20" y="552.20" font-size="8.5" text-anchor="middle" font-weight="normal" fill="#1a1a1a" stroke="#1a1a1a" stroke-width="0.08" >0 (0%)</text>
<text x="205.00" y="552.20" font-size="8.5" text-anchor="middle" font-weight="normal" fill="#1a1a1a" stroke="#1a1a1a" stroke-width="0.08" >2 (33%)</text>
<text x="259.10" y="552.20" font-size="8.5" text-anchor="middle" font-weight="normal" fill="#1a1a1a" stroke="#1a1a1a" stroke-width="0.08" >1 (17%)</text>
<text x="302.20" y="552.20" font-size="8.5" text-anchor="middle" font-weight="normal" fill="#1a1a1a" stroke="#1a1a1a" stroke-width="0.08" >1 (17%)</text>
<text x="344.40" y="552.20" font-size="8.5" text-anchor="middle" font-weight="normal" fill="#1a1a1a" stroke="#1a1a1a" stroke-width="0.08" >1 (17%)</text>
<text x="387.10" y="552.20" font-size="8.5" text-anchor="middle" font-weight="normal" fill="#1a1a1a" stroke="#1a1a1a" stroke-width="0.08" >1 (17%)</text>
<text x="432.50" y="552.20" font-size="8.5" text-anchor="middle" font-weight="normal" fill="#1a1a1a" stroke="#1a1a1a" stroke-width="0.08" >0 (0%)</text>
<text x="30.00" y="570.50" font-size="8.5" text-anchor="middle" font-weight="normal" fill="#1a1a1a" stroke="#1a1a1a" stroke-width="0.08" >CD41<tspan font-size="5.4" dy="-3.0" dx="0.5">Hi</tspan><tspan dy="3.0" font-size="1">&#8203;</tspan></text>
<text x="74.25" y="570.50" font-size="8.5" text-anchor="middle" font-weight="normal" fill="#1a1a1a" stroke="#1a1a1a" stroke-width="0.08" >100</text>
<text x="116.75" y="570.50" font-size="8.5" text-anchor="middle" font-weight="normal" fill="#1a1a1a" stroke="#1a1a1a" stroke-width="0.08" >6</text>
<text x="155.20" y="570.50" font-size="8.5" text-anchor="middle" font-weight="normal" fill="#1a1a1a" stroke="#1a1a1a" stroke-width="0.08" >0 (0%)</text>
<text x="205.00" y="570.50" font-size="8.5" text-anchor="middle" font-weight="normal" fill="#1a1a1a" stroke="#1a1a1a" stroke-width="0.08" >0 (0%)</text>
<text x="259.10" y="570.50" font-size="8.5" text-anchor="middle" font-weight="normal" fill="#1a1a1a" stroke="#1a1a1a" stroke-width="0.08" >0 (0%)</text>
<text x="302.20" y="570.50" font-size="8.5" text-anchor="middle" font-weight="normal" fill="#1a1a1a" stroke="#1a1a1a" stroke-width="0.08" >0 (0%)</text>
<text x="344.40" y="570.50" font-size="8.5" text-anchor="middle" font-weight="normal" fill="#1a1a1a" stroke="#1a1a1a" stroke-width="0.08" >0 (0%)</text>
<text x="387.10" y="570.50" font-size="8.5" text-anchor="middle" font-weight="normal" fill="#1a1a1a" stroke="#1a1a1a" stroke-width="0.08" >0 (0%)</text>
<text x="432.50" y="570.50" font-size="8.5" text-anchor="middle" font-weight="normal" fill="#1a1a1a" stroke="#1a1a1a" stroke-width="0.08" >6 (100%)</text>
<text x="8.10" y="602.70" font-size="11.3" text-anchor="start" font-weight="bold" fill="#000" stroke="#000" stroke-width="0.1" >F</text>
<text transform="translate(26.60,640.3) rotate(-90)" font-size="8.9" text-anchor="middle" fill="#1a1a1a" stroke="#1a1a1a" stroke-width="0.15">% donor cells</text>
<line x1="46.30" y1="610.70" x2="48.90" y2="610.70" stroke="#111" stroke-width="1.1" />
<text x="43.80" y="613.60" font-size="8.1" text-anchor="end" font-weight="normal" fill="#1a1a1a" stroke="#1a1a1a" stroke-width="0.22" >2.0</text>
<line x1="46.30" y1="624.40" x2="48.90" y2="624.40" stroke="#111" stroke-width="1.1" />
<text x="43.80" y="627.30" font-size="8.1" text-anchor="end" font-weight="normal" fill="#1a1a1a" stroke="#1a1a1a" stroke-width="0.22" >1.5</text>
<line x1="46.30" y1="638.10" x2="48.90" y2="638.10" stroke="#111" stroke-width="1.1" />
<text x="43.80" y="641.00" font-size="8.1" text-anchor="end" font-weight="normal" fill="#1a1a1a" stroke="#1a1a1a" stroke-width="0.22" >1.0</text>
<line x1="46.30" y1="651.80" x2="48.90" y2="651.80" stroke="#111" stroke-width="1.1" />
<text x="43.80" y="654.70" font-size="8.1" text-anchor="end" font-weight="normal" fill="#1a1a1a" stroke="#1a1a1a" stroke-width="0.22" >0.5</text>
<line x1="46.30" y1="665.50" x2="48.90" y2="665.50" stroke="#111" stroke-width="1.1" />
<text x="43.80" y="668.40" font-size="8.1" text-anchor="end" font-weight="normal" fill="#1a1a1a" stroke="#1a1a1a" stroke-width="0.22" >0.0</text>
<line x1="48.90" y1="609.30" x2="48.90" y2="671.50" stroke="#111" stroke-width="1.4" />
<line x1="48.20" y1="670.70" x2="222.40" y2="670.70" stroke="#111" stroke-width="1.8" />
<line x1="52.50" y1="666.00" x2="57.90" y2="666.00" stroke="#cac4c4" stroke-width="2.7" stroke-linecap="round"/>
<line x1="59.10" y1="666.00" x2="64.50" y2="666.00" stroke="#68a5da" stroke-width="2.7" stroke-linecap="round"/>
<text transform="translate(62.50,677.0) rotate(-45)" font-size="8.2" text-anchor="end" fill="#1a1a1a" stroke="#1a1a1a" stroke-width="0.1">HSC</text>
<line x1="71.77" y1="666.00" x2="77.17" y2="666.00" stroke="#cac4c4" stroke-width="2.7" stroke-linecap="round"/>
<line x1="78.37" y1="666.00" x2="83.77" y2="666.00" stroke="#68a5da" stroke-width="2.7" stroke-linecap="round"/>
<text transform="translate(81.77,677.0) rotate(-45)" font-size="8.2" text-anchor="end" fill="#1a1a1a" stroke="#1a1a1a" stroke-width="0.1">MPP</text>
<line x1="91.04" y1="666.00" x2="96.44" y2="666.00" stroke="#cac4c4" stroke-width="2.7" stroke-linecap="round"/>
<line x1="97.64" y1="666.00" x2="103.04" y2="666.00" stroke="#68a5da" stroke-width="2.7" stroke-linecap="round"/>
<text transform="translate(101.04,677.0) rotate(-45)" font-size="8.2" text-anchor="end" fill="#1a1a1a" stroke="#1a1a1a" stroke-width="0.1">HPC-1</text>
<line x1="110.31" y1="666.00" x2="115.71" y2="666.00" stroke="#cac4c4" stroke-width="2.7" stroke-linecap="round"/>
<line x1="116.91" y1="666.00" x2="122.31" y2="666.00" stroke="#68a5da" stroke-width="2.7" stroke-linecap="round"/>
<text transform="translate(120.31,677.0) rotate(-45)" font-size="8.2" text-anchor="end" fill="#1a1a1a" stroke="#1a1a1a" stroke-width="0.1">HPC-2</text>
<line x1="129.58" y1="666.00" x2="134.98" y2="666.00" stroke="#cac4c4" stroke-width="2.7" stroke-linecap="round"/>
<line x1="136.18" y1="666.00" x2="141.58" y2="666.00" stroke="#68a5da" stroke-width="2.7" stroke-linecap="round"/>
<text transform="translate(139.58,677.0) rotate(-45)" font-size="8.2" text-anchor="end" fill="#1a1a1a" stroke="#1a1a1a" stroke-width="0.1">CMP</text>
<line x1="148.85" y1="666.00" x2="154.25" y2="666.00" stroke="#cac4c4" stroke-width="2.7" stroke-linecap="round"/>
<line x1="155.45" y1="666.00" x2="160.85" y2="666.00" stroke="#68a5da" stroke-width="2.7" stroke-linecap="round"/>
<text transform="translate(158.85,677.0) rotate(-45)" font-size="8.2" text-anchor="end" fill="#1a1a1a" stroke="#1a1a1a" stroke-width="0.1">GMP</text>
<line x1="168.12" y1="666.00" x2="173.52" y2="666.00" stroke="#cac4c4" stroke-width="2.7" stroke-linecap="round"/>
<line x1="174.72" y1="666.00" x2="180.12" y2="666.00" stroke="#68a5da" stroke-width="2.7" stroke-linecap="round"/>
<text transform="translate(178.12,677.0) rotate(-45)" font-size="8.2" text-anchor="end" fill="#1a1a1a" stroke="#1a1a1a" stroke-width="0.1">MEP</text>
<line x1="187.39" y1="666.00" x2="192.79" y2="666.00" stroke="#cac4c4" stroke-width="2.7" stroke-linecap="round"/>
<line x1="193.99" y1="666.00" x2="199.39" y2="666.00" stroke="#68a5da" stroke-width="2.7" stroke-linecap="round"/>
<text transform="translate(197.39,677.0) rotate(-45)" font-size="8.2" text-anchor="end" fill="#1a1a1a" stroke="#1a1a1a" stroke-width="0.1">MkP</text>
<line x1="206.66" y1="666.00" x2="212.06" y2="666.00" stroke="#cac4c4" stroke-width="2.7" stroke-linecap="round"/>
<line x1="213.26" y1="666.00" x2="218.66" y2="666.00" stroke="#68a5da" stroke-width="2.7" stroke-linecap="round"/>
<text transform="translate(216.66,677.0) rotate(-45)" font-size="8.2" text-anchor="end" fill="#1a1a1a" stroke="#1a1a1a" stroke-width="0.1">CLP</text>
<circle cx="55.00" cy="655.00" r="1.5" fill="#a9a9a9"/>
<circle cx="74.20" cy="655.80" r="1.5" fill="#a9a9a9"/>
<circle cx="93.50" cy="662.30" r="1.5" fill="#a9a9a9"/>
<circle cx="112.70" cy="619.60" r="1.5" fill="#a9a9a9"/>
<circle cx="131.90" cy="649.60" r="1.5" fill="#a9a9a9"/>
<circle cx="151.20" cy="658.20" r="1.5" fill="#a9a9a9"/>
<circle cx="170.00" cy="643.20" r="1.5" fill="#a9a9a9"/>
<circle cx="170.00" cy="662.80" r="1.5" fill="#a9a9a9"/>
<circle cx="189.00" cy="662.30" r="1.5" fill="#a9a9a9"/>
<circle cx="208.00" cy="657.20" r="1.5" fill="#a9a9a9"/>
<circle cx="198.20" cy="615.5" r="1.5" fill="#a9a9a9"/>
<text x="202.20" y="618.40" font-size="8.2" text-anchor="start" font-weight="normal" fill="#1a1a1a" stroke="#1a1a1a" stroke-width="0.05" >CD41<tspan font-size="5.8" dy="-3.0" dx="0.5">-</tspan><tspan dy="3.0" font-size="1">&#8203;</tspan></text>
<circle cx="198.20" cy="626.0" r="1.5" fill="#5d9bd3"/>
<text x="202.20" y="628.90" font-size="8.2" text-anchor="start" font-weight="normal" fill="#1a1a1a" stroke="#1a1a1a" stroke-width="0.05" >CD41<tspan font-size="5.6" dy="-3.0" dx="0.5">+</tspan><tspan dy="3.0" font-size="1">&#8203;</tspan></text>
<text x="241.50" y="602.70" font-size="11.3" text-anchor="start" font-weight="bold" fill="#000" stroke="#000" stroke-width="0.1" >G</text>
<text transform="translate(262.30,640.3) rotate(-90)" font-size="8.9" text-anchor="middle" fill="#1a1a1a" stroke="#1a1a1a" stroke-width="0.15">% donor cells</text>
<line x1="282.00" y1="610.70" x2="284.60" y2="610.70" stroke="#111" stroke-width="1.1" />
<text x="279.50" y="613.60" font-size="8.1" text-anchor="end" font-weight="normal" fill="#1a1a1a" stroke="#1a1a1a" stroke-width="0.22" >2.0</text>
<line x1="282.00" y1="624.40" x2="284.60" y2="624.40" stroke="#111" stroke-width="1.1" />
<text x="279.50" y="627.30" font-size="8.1" text-anchor="end" font-weight="normal" fill="#1a1a1a" stroke="#1a1a1a" stroke-width="0.22" >1.5</text>
<line x1="282.00" y1="638.10" x2="284.60" y2="638.10" stroke="#111" stroke-width="1.1" />
<text x="279.50" y="641.00" font-size="8.1" text-anchor="end" font-weight="normal" fill="#1a1a1a" stroke="#1a1a1a" stroke-width="0.22" >1.0</text>
<line x1="282.00" y1="651.80" x2="284.60" y2="651.80" stroke="#111" stroke-width="1.1" />
<text x="279.50" y="654.70" font-size="8.1" text-anchor="end" font-weight="normal" fill="#1a1a1a" stroke="#1a1a1a" stroke-width="0.22" >0.5</text>
<line x1="282.00" y1="665.50" x2="284.60" y2="665.50" stroke="#111" stroke-width="1.1" />
<text x="279.50" y="668.40" font-size="8.1" text-anchor="end" font-weight="normal" fill="#1a1a1a" stroke="#1a1a1a" stroke-width="0.22" >0.0</text>
<line x1="284.60" y1="609.30" x2="284.60" y2="671.50" stroke="#111" stroke-width="1.4" />
<line x1="283.90" y1="670.70" x2="458.10" y2="670.70" stroke="#111" stroke-width="1.8" />
<line x1="288.20" y1="666.00" x2="293.60" y2="666.00" stroke="#8cb6de" stroke-width="2.7" stroke-linecap="round"/>
<line x1="294.80" y1="666.00" x2="300.20" y2="666.00" stroke="#1f3868" stroke-width="2.7" stroke-linecap="round"/>
<text transform="translate(298.20,677.0) rotate(-45)" font-size="8.2" text-anchor="end" fill="#1a1a1a" stroke="#1a1a1a" stroke-width="0.1">HSC</text>
<line x1="307.47" y1="666.00" x2="312.87" y2="666.00" stroke="#8cb6de" stroke-width="2.7" stroke-linecap="round"/>
<line x1="314.07" y1="666.00" x2="319.47" y2="666.00" stroke="#1f3868" stroke-width="2.7" stroke-linecap="round"/>
<text transform="translate(317.47,677.0) rotate(-45)" font-size="8.2" text-anchor="end" fill="#1a1a1a" stroke="#1a1a1a" stroke-width="0.1">MPP</text>
<line x1="326.74" y1="666.00" x2="332.14" y2="666.00" stroke="#8cb6de" stroke-width="2.7" stroke-linecap="round"/>
<line x1="333.34" y1="666.00" x2="338.74" y2="666.00" stroke="#1f3868" stroke-width="2.7" stroke-linecap="round"/>
<text transform="translate(336.74,677.0) rotate(-45)" font-size="8.2" text-anchor="end" fill="#1a1a1a" stroke="#1a1a1a" stroke-width="0.1">HPC-1</text>
<line x1="346.01" y1="666.00" x2="351.41" y2="666.00" stroke="#8cb6de" stroke-width="2.7" stroke-linecap="round"/>
<line x1="352.61" y1="666.00" x2="358.01" y2="666.00" stroke="#1f3868" stroke-width="2.7" stroke-linecap="round"/>
<text transform="translate(356.01,677.0) rotate(-45)" font-size="8.2" text-anchor="end" fill="#1a1a1a" stroke="#1a1a1a" stroke-width="0.1">HPC-2</text>
<line x1="365.28" y1="666.00" x2="370.68" y2="666.00" stroke="#8cb6de" stroke-width="2.7" stroke-linecap="round"/>
<line x1="371.88" y1="666.00" x2="377.28" y2="666.00" stroke="#1f3868" stroke-width="2.7" stroke-linecap="round"/>
<text transform="translate(375.28,677.0) rotate(-45)" font-size="8.2" text-anchor="end" fill="#1a1a1a" stroke="#1a1a1a" stroke-width="0.1">CMP</text>
<line x1="384.55" y1="666.00" x2="389.95" y2="666.00" stroke="#8cb6de" stroke-width="2.7" stroke-linecap="round"/>
<line x1="391.15" y1="666.00" x2="396.55" y2="666.00" stroke="#1f3868" stroke-width="2.7" stroke-linecap="round"/>
<text transform="translate(394.55,677.0) rotate(-45)" font-size="8.2" text-anchor="end" fill="#1a1a1a" stroke="#1a1a1a" stroke-width="0.1">GMP</text>
<line x1="403.82" y1="666.00" x2="409.22" y2="666.00" stroke="#8cb6de" stroke-width="2.7" stroke-linecap="round"/>
<line x1="410.42" y1="666.00" x2="415.82" y2="666.00" stroke="#1f3868" stroke-width="2.7" stroke-linecap="round"/>
<text transform="translate(413.82,677.0) rotate(-45)" font-size="8.2" text-anchor="end" fill="#1a1a1a" stroke="#1a1a1a" stroke-width="0.1">MEP</text>
<line x1="423.09" y1="666.00" x2="428.49" y2="666.00" stroke="#8cb6de" stroke-width="2.7" stroke-linecap="round"/>
<line x1="429.69" y1="666.00" x2="435.09" y2="666.00" stroke="#1f3868" stroke-width="2.7" stroke-linecap="round"/>
<text transform="translate(433.09,677.0) rotate(-45)" font-size="8.2" text-anchor="end" fill="#1a1a1a" stroke="#1a1a1a" stroke-width="0.1">MkP</text>
<line x1="442.36" y1="666.00" x2="447.76" y2="666.00" stroke="#8cb6de" stroke-width="2.7" stroke-linecap="round"/>
<line x1="448.96" y1="666.00" x2="454.36" y2="666.00" stroke="#1f3868" stroke-width="2.7" stroke-linecap="round"/>
<text transform="translate(452.36,677.0) rotate(-45)" font-size="8.2" text-anchor="end" fill="#1a1a1a" stroke="#1a1a1a" stroke-width="0.1">CLP</text>
<circle cx="442.00" cy="644.10" r="1.5" fill="#6aa8dc"/>
<circle cx="443.80" cy="644.40" r="1.5" fill="#6aa8dc"/>
<circle cx="434.00" cy="615.5" r="1.5" fill="#6aa8dc"/>
<text x="438.00" y="618.40" font-size="8.2" text-anchor="start" font-weight="normal" fill="#1a1a1a" stroke="#1a1a1a" stroke-width="0.05" >CD41<tspan font-size="5.6" dy="-3.0" dx="0.5">+</tspan><tspan dy="3.0" font-size="1">&#8203;</tspan></text>
<circle cx="434.00" cy="626.0" r="1.5" fill="#1d3a73"/>
<text x="438.00" y="628.90" font-size="8.2" text-anchor="start" font-weight="normal" fill="#1a1a1a" stroke="#1a1a1a" stroke-width="0.05" >CD41<tspan font-size="5.4" dy="-3.0" dx="0.5">Hi</tspan><tspan dy="3.0" font-size="1">&#8203;</tspan></text>
<rect x="0.75" y="0.7" width="518.3" height="701.4" fill="none" stroke="#000" stroke-width="2"/></svg>
</body></html>
